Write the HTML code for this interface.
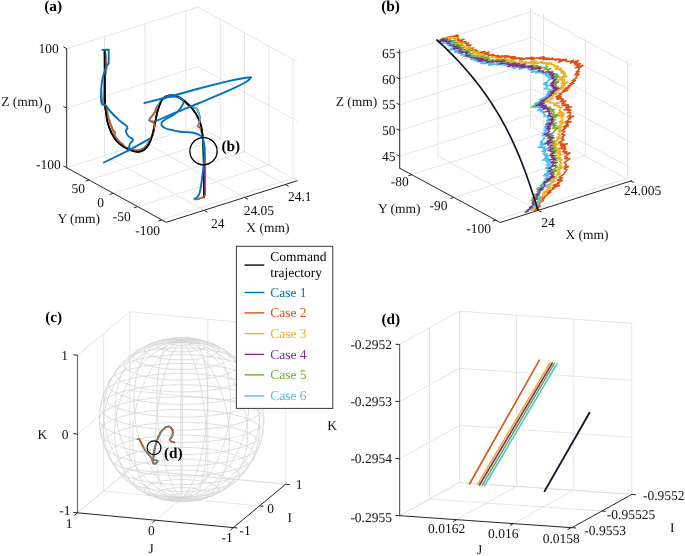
<!DOCTYPE html>
<html><head><meta charset="utf-8"><title>figure</title>
<style>
html,body{margin:0;padding:0;background:#fff;}
svg{display:block;font-family:"Liberation Serif",serif;text-rendering:geometricPrecision;will-change:transform;}
</style></head><body>
<svg width="685" height="556" viewBox="0 0 685 556">
<rect width="685" height="556" fill="#fff"/>
<line x1="104.49" y1="155.72" x2="104.49" y2="36.72" stroke="#dedede" stroke-width="0.8" />
<line x1="104.49" y1="155.72" x2="203.99" y2="210.32" stroke="#dedede" stroke-width="0.8" />
<line x1="145.16" y1="142.82" x2="145.16" y2="23.82" stroke="#dedede" stroke-width="0.8" />
<line x1="145.16" y1="142.82" x2="244.66" y2="197.42" stroke="#dedede" stroke-width="0.8" />
<line x1="185.83" y1="129.93" x2="185.83" y2="10.93" stroke="#dedede" stroke-width="0.8" />
<line x1="185.83" y1="129.93" x2="285.33" y2="184.53" stroke="#dedede" stroke-width="0.8" />
<line x1="220.32" y1="138.40" x2="220.32" y2="19.40" stroke="#dedede" stroke-width="0.8" />
<line x1="89.12" y1="180.00" x2="220.32" y2="138.40" stroke="#dedede" stroke-width="0.8" />
<line x1="244.57" y1="151.71" x2="244.57" y2="32.71" stroke="#dedede" stroke-width="0.8" />
<line x1="113.37" y1="193.31" x2="244.57" y2="151.71" stroke="#dedede" stroke-width="0.8" />
<line x1="268.81" y1="165.01" x2="268.81" y2="46.01" stroke="#dedede" stroke-width="0.8" />
<line x1="137.61" y1="206.61" x2="268.81" y2="165.01" stroke="#dedede" stroke-width="0.8" />
<line x1="293.06" y1="178.32" x2="293.06" y2="59.32" stroke="#dedede" stroke-width="0.8" />
<line x1="161.86" y1="219.92" x2="293.06" y2="178.32" stroke="#dedede" stroke-width="0.8" />
<line x1="66.70" y1="167.70" x2="197.90" y2="126.10" stroke="#dedede" stroke-width="0.8" />
<line x1="197.90" y1="126.10" x2="297.40" y2="180.70" stroke="#dedede" stroke-width="0.8" />
<line x1="66.70" y1="108.20" x2="197.90" y2="66.60" stroke="#dedede" stroke-width="0.8" />
<line x1="197.90" y1="66.60" x2="297.40" y2="121.20" stroke="#dedede" stroke-width="0.8" />
<line x1="66.70" y1="48.70" x2="197.90" y2="7.10" stroke="#dedede" stroke-width="0.8" />
<line x1="197.90" y1="7.10" x2="297.40" y2="61.70" stroke="#dedede" stroke-width="0.8" />
<line x1="66.70" y1="168.20" x2="66.70" y2="48.20" stroke="#262626" stroke-width="1" />
<line x1="66.70" y1="167.70" x2="166.20" y2="222.30" stroke="#262626" stroke-width="1" />
<line x1="166.20" y1="222.30" x2="297.40" y2="180.70" stroke="#262626" stroke-width="1" />
<line x1="66.70" y1="167.70" x2="63.37" y2="165.87" stroke="#262626" stroke-width="1" />
<line x1="66.70" y1="108.20" x2="63.37" y2="106.37" stroke="#262626" stroke-width="1" />
<line x1="66.70" y1="48.70" x2="63.37" y2="46.87" stroke="#262626" stroke-width="1" />
<line x1="89.12" y1="180.00" x2="85.50" y2="181.15" stroke="#262626" stroke-width="1" />
<line x1="113.37" y1="193.31" x2="109.74" y2="194.46" stroke="#262626" stroke-width="1" />
<line x1="137.61" y1="206.61" x2="133.99" y2="207.76" stroke="#262626" stroke-width="1" />
<line x1="161.86" y1="219.92" x2="158.24" y2="221.07" stroke="#262626" stroke-width="1" />
<line x1="203.99" y1="210.32" x2="207.32" y2="212.15" stroke="#262626" stroke-width="1" />
<line x1="244.66" y1="197.42" x2="247.99" y2="199.25" stroke="#262626" stroke-width="1" />
<line x1="285.33" y1="184.53" x2="288.66" y2="186.36" stroke="#262626" stroke-width="1" />
<text x="44.20" y="10.80" text-anchor="start" font-size="15.3" font-weight="bold" fill="#000">(a)</text>
<text x="58.80" y="52.50" text-anchor="end" font-size="13.5" fill="#111">100</text>
<text x="51.00" y="112.80" text-anchor="end" font-size="13.5" fill="#111">0</text>
<text x="60.80" y="169.30" text-anchor="end" font-size="13.5" fill="#111">-100</text>
<text x="1.20" y="106.20" text-anchor="start" font-size="13.5" fill="#111">Z (mm)</text>
<text x="71.60" y="193.20" text-anchor="start" font-size="13.5" fill="#111">50</text>
<text x="97.20" y="207.20" text-anchor="start" font-size="13.5" fill="#111">0</text>
<text x="112.70" y="221.20" text-anchor="start" font-size="13.5" fill="#111">-50</text>
<text x="135.30" y="235.40" text-anchor="start" font-size="13.5" fill="#111">-100</text>
<text x="57.50" y="223.00" text-anchor="start" font-size="13.5" fill="#111">Y (mm)</text>
<text x="211.00" y="228.30" text-anchor="start" font-size="13.5" fill="#111">24</text>
<text x="243.70" y="215.10" text-anchor="start" font-size="13.5" fill="#111">24.05</text>
<text x="287.90" y="200.50" text-anchor="start" font-size="13.5" fill="#111">24.1</text>
<text x="246.30" y="232.30" text-anchor="start" font-size="13.5" fill="#111">X (mm)</text>
<path d="M104.60,50.20 C104.63,55.17 104.73,71.00 104.80,80.00 C104.87,89.00 104.83,99.07 105.00,104.20 C105.17,109.33 105.40,107.90 105.80,110.80 C106.20,113.70 106.50,118.00 107.40,121.60 C108.30,125.20 109.67,129.17 111.20,132.40 C112.73,135.63 114.63,138.67 116.60,141.00 C118.57,143.33 120.67,144.87 123.00,146.40 C125.33,147.93 128.08,149.30 130.60,150.20 C133.12,151.10 135.95,151.80 138.10,151.80 C140.25,151.80 141.70,151.47 143.50,150.20 C145.30,148.93 147.45,146.63 148.90,144.20 C150.35,141.77 151.20,139.02 152.20,135.60 C153.20,132.18 154.00,127.83 154.90,123.70 C155.80,119.57 156.62,114.38 157.60,110.80 C158.58,107.22 159.82,104.37 160.80,102.20 C161.78,100.03 162.17,98.92 163.50,97.80 C164.83,96.68 167.05,95.87 168.80,95.50 C170.55,95.13 172.38,95.32 174.00,95.60 C175.62,95.88 176.68,96.22 178.50,97.20 C180.32,98.18 182.58,99.58 184.90,101.50 C187.22,103.42 190.17,105.92 192.40,108.70 C194.63,111.48 196.82,115.15 198.30,118.20 C199.78,121.25 200.52,123.37 201.30,127.00 C202.08,130.63 202.60,134.50 203.00,140.00 C203.40,145.50 203.52,150.45 203.70,160.00 C203.88,169.55 204.03,191.08 204.10,197.30" fill="none" stroke="#000" stroke-width="1.7" stroke-linejoin="round" stroke-linecap="round"/>
<path d="M104.54,50.54 C104.76,51.84 105.05,53.30 105.47,56.10 C105.89,58.91 106.18,59.94 106.33,62.57 C106.48,65.19 106.48,64.50 106.11,67.34 C105.75,70.18 105.23,68.29 104.76,74.73 C104.29,81.18 104.57,88.26 104.10,94.97 C103.62,101.68 102.54,101.08 102.74,103.48 C102.93,105.88 104.01,104.11 104.94,105.25 C105.87,106.39 106.11,106.13 106.73,108.37 C107.36,110.61 106.94,111.76 107.62,114.84 C108.31,117.92 108.68,118.59 109.67,121.56 C110.66,124.54 111.06,125.50 111.86,127.59 C112.66,129.68 112.28,129.37 113.10,130.53 C113.92,131.69 114.99,131.39 115.37,132.57 C115.74,133.75 114.24,133.91 114.72,135.58 C115.20,137.25 116.09,137.97 117.41,139.72 C118.74,141.48 119.20,142.05 120.39,143.10 C121.59,144.15 121.76,143.70 122.54,144.24 C123.33,144.77 122.82,144.52 123.78,145.40 C124.73,146.28 124.84,146.96 126.64,148.02 C128.43,149.08 129.48,149.36 131.47,149.94 C133.45,150.52 133.13,150.47 135.13,150.50 C137.12,150.54 137.97,150.65 140.01,150.09 C142.04,149.52 142.06,149.32 143.85,148.09 C145.64,146.85 146.07,146.82 147.68,144.80 C149.30,142.78 149.51,141.95 150.78,139.43 C152.06,136.91 152.32,136.74 153.16,133.99 C153.99,131.25 153.95,129.89 154.37,127.66 C154.79,125.44 155.23,125.77 154.96,124.46 C154.69,123.16 154.50,123.08 153.20,122.07 C151.91,121.05 149.71,121.39 149.41,120.11 C149.12,118.83 150.82,118.33 151.93,116.57 C153.04,114.81 152.92,114.45 154.18,112.56 C155.45,110.68 156.09,110.77 157.35,108.49 C158.61,106.21 158.29,105.03 159.59,102.80 C160.89,100.57 161.00,100.33 162.91,98.95 C164.83,97.57 165.59,97.48 167.79,96.87 C170.00,96.26 170.20,96.58 172.37,96.34 C174.55,96.11 174.58,95.08 177.11,95.84 C179.65,96.61 180.12,97.08 183.22,99.63 C186.31,102.18 187.98,104.94 190.38,106.78 C192.78,108.62 191.94,106.96 193.51,107.50 C195.08,108.03 195.62,106.97 197.11,109.08 C198.60,111.18 199.41,113.30 199.90,116.53 C200.39,119.76 199.64,120.69 199.20,122.91 C198.76,125.13 197.77,124.78 198.01,126.06 C198.25,127.33 199.19,125.71 200.24,128.37 C201.29,131.03 201.38,132.44 202.51,137.46 C203.65,142.48 204.53,142.28 205.10,149.88 C205.67,157.48 205.00,160.64 204.96,170.02 C204.92,179.40 205.25,183.84 204.94,190.10 C204.64,196.35 205.64,194.69 203.66,196.82 C201.68,198.95 198.12,198.65 196.44,199.21" fill="none" stroke="#D95319" stroke-width="1.5" stroke-linejoin="round" stroke-linecap="round"/>
<path d="M104.54,50.10 C104.76,51.40 105.21,52.67 105.50,55.65 C105.78,58.64 105.41,60.18 105.77,62.90 C106.12,65.62 107.13,64.54 107.02,67.30 C106.90,70.06 106.05,68.31 105.27,74.72 C104.48,81.13 104.38,88.15 103.64,94.78 C102.89,101.40 101.87,100.48 102.07,103.11 C102.28,105.73 103.38,104.81 104.51,106.03 C105.65,107.24 106.14,106.38 106.93,108.31 C107.72,110.24 107.34,111.07 107.90,114.29 C108.46,117.52 108.39,118.96 109.31,122.13 C110.23,125.29 110.81,125.88 111.83,127.85 C112.85,129.83 112.92,129.44 113.68,130.59 C114.44,131.73 114.91,131.77 115.11,132.77 C115.30,133.77 114.02,133.45 114.51,134.88 C114.99,136.31 115.67,136.96 117.17,138.89 C118.67,140.82 119.66,142.07 120.93,143.17 C122.21,144.26 121.98,142.97 122.65,143.60 C123.32,144.23 122.70,144.69 123.81,145.87 C124.91,147.05 125.70,147.71 127.38,148.65 C129.06,149.59 129.21,149.45 131.01,149.91 C132.81,150.38 133.08,150.61 135.10,150.63 C137.12,150.65 137.51,150.73 139.66,150.01 C141.81,149.28 142.57,148.82 144.31,147.54 C146.06,146.26 145.73,146.51 147.15,144.53 C148.56,142.54 149.07,141.64 150.38,139.03 C151.69,136.43 151.76,135.99 152.77,133.34 C153.78,130.70 154.29,129.94 154.70,127.70 C155.10,125.45 154.92,125.08 154.51,123.70 C154.10,122.32 154.21,122.49 152.93,121.78 C151.66,121.06 149.41,121.86 149.06,120.65 C148.70,119.43 150.08,118.44 151.42,116.56 C152.76,114.68 153.60,114.66 154.80,112.60 C156.00,110.54 155.29,110.06 156.56,107.73 C157.84,105.40 158.82,104.62 160.27,102.62 C161.71,100.61 161.01,100.54 162.74,99.13 C164.47,97.72 165.62,97.06 167.68,96.56 C169.73,96.06 169.28,96.95 171.54,97.00 C173.81,97.04 174.67,95.99 177.40,96.75 C180.12,97.52 180.41,98.08 183.23,100.26 C186.06,102.44 187.01,104.45 189.52,106.09 C192.02,107.73 192.17,106.38 193.97,107.28 C195.76,108.17 195.82,107.60 197.21,109.94 C198.60,112.29 199.43,114.34 199.92,117.32 C200.41,120.29 199.78,120.66 199.29,122.69 C198.81,124.73 197.54,124.69 197.84,126.04 C198.14,127.38 199.49,126.02 200.58,128.46 C201.68,130.91 201.68,131.56 202.53,136.51 C203.39,141.46 203.60,141.89 204.24,149.67 C204.89,157.45 205.20,160.55 205.28,169.86 C205.36,179.18 204.87,183.35 204.59,189.60 C204.31,195.84 206.15,194.49 204.08,196.62 C202.01,198.76 197.66,198.26 195.71,198.76" fill="none" stroke="#EDB120" stroke-width="1.5" stroke-linejoin="round" stroke-linecap="round"/>
<path d="M104.92,50.74 C105.15,52.07 105.54,53.48 105.90,56.44 C106.25,59.40 106.39,60.97 106.44,63.42 C106.49,65.88 106.36,64.23 106.13,66.97 C105.90,69.70 105.94,68.70 105.44,75.15 C104.95,81.60 104.72,88.06 104.00,94.61 C103.28,101.17 102.17,100.67 102.37,103.25 C102.57,105.83 103.97,104.63 104.84,105.67 C105.72,106.72 105.52,105.54 106.11,107.72 C106.70,109.90 106.53,111.76 107.38,115.02 C108.23,118.27 108.71,118.83 109.77,121.66 C110.82,124.49 111.05,125.05 111.90,127.14 C112.75,129.23 112.81,129.27 113.42,130.63 C114.03,131.99 114.32,131.97 114.50,132.97 C114.69,133.97 113.47,133.35 114.21,134.92 C114.95,136.48 116.26,137.73 117.68,139.67 C119.10,141.62 119.13,142.26 120.29,143.26 C121.45,144.27 121.98,143.28 122.64,143.98 C123.30,144.67 122.04,145.12 123.10,146.24 C124.17,147.36 125.26,147.94 127.19,148.77 C129.12,149.60 129.60,149.43 131.39,149.80 C133.18,150.17 132.94,150.37 134.86,150.37 C136.79,150.36 137.56,150.29 139.65,149.77 C141.73,149.24 142.06,149.31 143.80,148.10 C145.54,146.89 145.55,146.75 147.10,144.58 C148.65,142.41 149.03,141.40 150.44,138.81 C151.84,136.22 152.28,136.01 153.12,133.48 C153.95,130.95 153.62,130.30 154.02,127.98 C154.41,125.67 154.98,125.06 154.80,123.56 C154.63,122.05 154.52,122.18 153.28,121.52 C152.03,120.87 149.95,121.85 149.45,120.74 C148.95,119.64 149.99,118.58 151.12,116.79 C152.24,115.00 153.01,115.23 154.27,113.08 C155.52,110.92 155.25,109.91 156.51,107.55 C157.77,105.18 158.24,104.82 159.68,102.96 C161.12,101.09 160.66,100.94 162.70,99.56 C164.74,98.18 166.30,97.72 168.43,97.04 C170.56,96.37 169.84,96.76 171.84,96.65 C173.85,96.55 174.51,95.78 177.02,96.58 C179.54,97.37 179.51,97.70 182.61,100.05 C185.70,102.40 187.86,104.93 190.30,106.66 C192.73,108.39 191.50,106.82 193.04,107.45 C194.58,108.07 195.29,107.01 196.89,109.34 C198.50,111.67 199.34,114.13 199.91,117.42 C200.48,120.70 199.80,121.37 199.34,123.42 C198.88,125.48 197.67,125.22 197.95,126.21 C198.22,127.20 199.51,125.24 200.52,127.68 C201.53,130.11 201.26,131.32 202.28,136.65 C203.30,141.97 204.33,142.82 204.89,150.50 C205.45,158.17 204.57,160.32 204.66,169.55 C204.75,178.77 205.56,183.76 205.29,190.03 C205.02,196.31 205.65,194.22 203.51,196.44 C201.36,198.65 197.82,198.81 196.09,199.53" fill="none" stroke="#7E2F8E" stroke-width="1.5" stroke-linejoin="round" stroke-linecap="round"/>
<path d="M105.09,50.82 C105.21,51.97 105.44,52.88 105.59,55.76 C105.73,58.64 105.47,60.48 105.70,63.16 C105.93,65.85 106.76,64.43 106.57,67.26 C106.38,70.08 105.62,68.73 104.87,75.27 C104.13,81.81 103.90,88.74 103.37,95.30 C102.85,101.87 102.29,100.97 102.63,103.41 C102.97,105.86 103.98,104.70 104.84,105.78 C105.69,106.86 105.58,106.05 106.29,108.05 C107.01,110.06 107.09,111.07 107.91,114.37 C108.72,117.66 108.86,119.16 109.80,122.19 C110.75,125.21 111.22,125.21 111.94,127.34 C112.67,129.46 112.11,130.08 112.89,131.30 C113.68,132.52 115.02,131.71 115.30,132.55 C115.58,133.38 113.62,133.37 114.09,134.90 C114.57,136.42 115.73,137.23 117.33,139.09 C118.94,140.96 119.79,141.75 120.95,142.89 C122.11,144.02 121.76,143.18 122.30,143.96 C122.84,144.74 122.07,145.22 123.26,146.23 C124.45,147.25 125.57,147.39 127.41,148.31 C129.25,149.24 129.30,149.53 131.14,150.20 C132.99,150.87 133.35,151.21 135.31,151.18 C137.26,151.14 137.48,150.85 139.53,150.06 C141.58,149.27 142.20,149.22 144.10,147.80 C146.01,146.39 146.08,146.04 147.69,143.99 C149.29,141.94 149.88,141.43 150.98,139.03 C152.08,136.62 151.71,136.31 152.42,133.66 C153.12,131.02 153.51,130.04 154.01,127.70 C154.52,125.36 154.93,124.88 154.58,123.64 C154.23,122.39 153.72,123.23 152.51,122.37 C151.30,121.50 149.55,121.39 149.40,119.91 C149.25,118.43 150.75,117.54 151.88,116.02 C153.01,114.50 153.01,115.32 154.23,113.40 C155.46,111.49 155.80,110.38 157.12,107.81 C158.44,105.24 158.59,104.26 159.88,102.39 C161.16,100.52 160.84,101.17 162.63,99.80 C164.42,98.43 165.31,97.25 167.55,96.52 C169.80,95.80 169.93,96.81 172.25,96.70 C174.56,96.59 174.86,95.23 177.48,96.05 C180.10,96.86 180.52,97.71 183.48,100.19 C186.44,102.68 187.84,105.02 190.17,106.69 C192.50,108.36 191.71,106.67 193.45,107.33 C195.18,107.99 196.12,107.21 197.60,109.52 C199.07,111.82 199.35,114.16 199.77,117.21 C200.19,120.26 199.79,120.50 199.41,122.59 C199.03,124.68 197.85,124.84 198.15,126.17 C198.44,127.50 199.70,125.87 200.69,128.28 C201.67,130.70 201.52,131.43 202.37,136.52 C203.22,141.61 203.74,142.33 204.32,150.09 C204.90,157.84 204.76,160.34 204.86,169.76 C204.96,179.17 205.10,184.16 204.75,190.43 C204.40,196.69 205.31,194.54 203.35,196.61 C201.40,198.68 198.01,198.68 196.38,199.31" fill="none" stroke="#77AC30" stroke-width="1.5" stroke-linejoin="round" stroke-linecap="round"/>
<path d="M104.62,50.15 C104.89,51.42 105.37,52.61 105.75,55.57 C106.13,58.54 106.14,60.20 106.24,62.87 C106.33,65.53 106.55,64.19 106.16,67.01 C105.76,69.82 105.23,68.50 104.54,74.93 C103.84,81.37 103.69,87.85 103.17,94.59 C102.65,101.33 102.03,101.32 102.32,103.83 C102.62,106.33 103.40,104.25 104.42,105.32 C105.45,106.40 105.97,106.31 106.73,108.45 C107.49,110.59 106.92,111.44 107.68,114.50 C108.44,117.55 108.98,118.56 109.98,121.55 C110.98,124.53 111.27,125.17 111.96,127.29 C112.65,129.41 112.28,129.30 112.94,130.62 C113.61,131.93 114.52,131.83 114.81,132.92 C115.10,134.00 113.59,133.82 114.18,135.28 C114.77,136.74 115.85,137.52 117.34,139.17 C118.82,140.82 119.42,141.35 120.55,142.36 C121.67,143.37 121.45,142.72 122.16,143.51 C122.87,144.29 122.49,144.59 123.58,145.73 C124.67,146.87 125.09,147.44 126.81,148.39 C128.53,149.34 128.97,149.21 130.95,149.80 C132.93,150.39 133.24,150.79 135.29,150.90 C137.35,151.01 137.71,150.86 139.74,150.27 C141.78,149.69 142.14,149.80 144.03,148.38 C145.91,146.95 146.18,146.46 147.83,144.19 C149.48,141.91 149.94,141.05 151.08,138.62 C152.22,136.18 152.07,136.24 152.72,133.76 C153.36,131.28 153.52,130.23 153.85,127.99 C154.18,125.75 154.32,125.55 154.14,124.17 C153.96,122.79 154.13,123.00 153.06,122.07 C152.00,121.15 149.87,121.49 149.58,120.21 C149.28,118.94 150.65,118.29 151.80,116.59 C152.94,114.90 153.19,114.86 154.48,112.96 C155.77,111.05 156.06,110.85 157.34,108.44 C158.62,106.04 158.76,104.75 159.97,102.66 C161.19,100.58 160.65,100.80 162.56,99.50 C164.47,98.20 165.87,97.77 168.15,97.09 C170.42,96.41 170.28,96.73 172.32,96.58 C174.36,96.44 174.51,95.73 176.89,96.47 C179.27,97.21 179.54,97.56 182.52,99.76 C185.51,101.97 187.21,104.17 189.67,105.92 C192.13,107.67 191.36,106.49 193.06,107.27 C194.75,108.05 195.38,106.89 196.93,109.25 C198.48,111.61 199.19,114.17 199.69,117.37 C200.19,120.57 199.49,120.75 199.08,122.95 C198.67,125.15 197.50,125.52 197.95,126.78 C198.40,128.05 199.96,126.00 201.02,128.36 C202.08,130.73 201.65,131.78 202.48,136.92 C203.30,142.05 203.86,142.75 204.56,150.38 C205.25,158.02 205.48,160.47 205.46,169.65 C205.44,178.83 204.97,183.42 204.48,189.73 C203.98,196.04 205.29,194.53 203.33,196.68 C201.38,198.84 197.78,198.43 196.09,198.96" fill="none" stroke="#4DBEEE" stroke-width="1.5" stroke-linejoin="round" stroke-linecap="round"/>
<path d="M104.64,50.53 C104.85,51.82 105.14,53.21 105.52,56.06 C105.90,58.91 106.09,60.14 106.28,62.74 C106.46,65.34 106.64,64.38 106.31,67.20 C105.98,70.03 105.42,68.36 104.86,74.84 C104.29,81.32 104.42,88.30 103.90,94.98 C103.37,101.67 102.37,101.06 102.60,103.49 C102.83,105.91 103.93,104.29 104.88,105.39 C105.84,106.50 106.04,106.04 106.68,108.22 C107.32,110.40 106.93,111.59 107.61,114.74 C108.30,117.90 108.64,118.75 109.60,121.74 C110.57,124.73 110.92,125.46 111.75,127.55 C112.59,129.65 112.37,129.55 113.18,130.72 C113.99,131.89 114.88,131.48 115.22,132.58 C115.56,133.68 114.14,133.80 114.63,135.43 C115.12,137.05 115.97,137.79 117.33,139.55 C118.68,141.32 119.21,141.93 120.44,142.98 C121.66,144.03 121.82,143.46 122.57,144.06 C123.31,144.66 122.64,144.61 123.63,145.56 C124.61,146.51 125.00,147.10 126.78,148.13 C128.57,149.16 129.34,149.39 131.28,149.96 C133.21,150.53 133.04,150.54 135.08,150.58 C137.11,150.62 137.94,150.72 140.00,150.13 C142.07,149.54 142.13,149.33 143.91,148.05 C145.69,146.77 146.06,146.69 147.65,144.64 C149.24,142.59 149.46,141.79 150.71,139.26 C151.96,136.73 152.18,136.47 153.01,133.79 C153.85,131.12 153.88,130.02 154.30,127.80 C154.72,125.58 155.11,125.62 154.82,124.28 C154.52,122.94 153.46,122.56 153.04,122.04" fill="none" stroke="#D95319" stroke-width="1.3" stroke-linejoin="round" stroke-linecap="round"/>
<path d="M104.60,50.20 C104.63,55.17 104.73,71.00 104.80,80.00 C104.87,89.00 104.83,99.07 105.00,104.20 C105.17,109.33 105.40,107.90 105.80,110.80 C106.20,113.70 106.50,118.00 107.40,121.60 C108.30,125.20 109.67,129.17 111.20,132.40 C112.73,135.63 114.63,138.67 116.60,141.00 C118.57,143.33 120.67,144.87 123.00,146.40 C125.33,147.93 128.08,149.30 130.60,150.20 C133.12,151.10 135.95,151.80 138.10,151.80 C140.25,151.80 141.70,151.47 143.50,150.20 C145.30,148.93 147.45,146.63 148.90,144.20 C150.35,141.77 151.20,139.02 152.20,135.60 C153.20,132.18 154.00,127.83 154.90,123.70 C155.80,119.57 156.62,114.38 157.60,110.80 C158.58,107.22 159.82,104.37 160.80,102.20 C161.78,100.03 162.17,98.92 163.50,97.80 C164.83,96.68 167.05,95.87 168.80,95.50 C170.55,95.13 172.38,95.32 174.00,95.60 C175.62,95.88 176.68,96.22 178.50,97.20 C180.32,98.18 182.58,99.58 184.90,101.50 C187.22,103.42 190.17,105.92 192.40,108.70 C194.63,111.48 196.82,115.15 198.30,118.20 C199.78,121.25 200.52,123.37 201.30,127.00 C202.08,130.63 202.60,134.50 203.00,140.00 C203.40,145.50 203.52,150.45 203.70,160.00 C203.88,169.55 204.03,191.08 204.10,197.30" fill="none" stroke="#000" stroke-width="1.65" stroke-linejoin="round" stroke-linecap="round"/>
<path d="M154.20,128.00 C154.29,127.07 154.93,125.40 154.60,124.00 C154.27,122.60 154.06,122.84 152.80,122.00 C151.54,121.16 149.48,121.68 149.20,120.40 C148.92,119.12 150.39,118.23 151.60,116.50 C152.81,114.77 153.14,114.98 154.40,113.00 C155.66,111.02 156.39,109.17 157.00,108.00" fill="none" stroke="#D95319" stroke-width="1.3" stroke-linejoin="round" stroke-linecap="round"/>
<path d="M190.00,106.30 C190.82,106.46 191.80,106.25 193.50,107.00 C195.20,107.75 195.83,107.17 197.30,109.50 C198.77,111.83 199.29,113.85 199.80,117.00 C200.31,120.15 199.94,120.81 199.50,123.00 C199.06,125.19 198.27,125.61 197.90,126.40" fill="none" stroke="#4DBEEE" stroke-width="1.3" stroke-linejoin="round" stroke-linecap="round"/>
<path d="M199.50,123.00 C199.13,123.79 197.62,125.23 197.90,126.40 C198.18,127.57 200.05,127.63 200.70,128.00" fill="none" stroke="#D95319" stroke-width="1.2" stroke-linejoin="round" stroke-linecap="round"/>
<polyline points="102.40,49.90 108.70,49.60 108.70,63.40 106.00,67.00" fill="none" stroke="#0072BD" stroke-width="1.9" stroke-linejoin="round" stroke-linecap="round" />
<path d="M106.00,67.00 C105.42,68.87 104.50,71.08 103.50,75.00 C102.50,78.92 102.28,79.02 101.70,83.80 C101.12,88.58 101.00,90.90 101.00,95.50 C101.00,100.10 100.70,101.28 101.70,103.50 C102.70,105.72 103.27,103.13 105.30,105.00 C107.33,106.87 107.16,107.91 110.40,111.50 C113.64,115.09 115.28,116.78 119.20,120.40 C123.12,124.02 125.66,124.43 127.20,127.00 C128.74,129.57 125.45,129.18 125.80,131.40 C126.15,133.62 127.02,134.56 128.70,136.50 C130.38,138.44 132.70,138.00 133.00,139.70 C133.30,141.40 131.00,141.49 130.00,143.80 C129.00,146.11 129.00,148.25 128.70,149.60" fill="none" stroke="#0072BD" stroke-width="1.9" stroke-linejoin="round" stroke-linecap="round"/>
<polyline points="103.90,162.50 128.70,150.40 149.90,138.70" fill="none" stroke="#0072BD" stroke-width="1.9" stroke-linejoin="round" stroke-linecap="round" />
<path d="M144.30,103.00 C148.58,101.92 160.85,98.92 170.00,96.50 C179.15,94.08 189.47,91.05 199.20,88.50 C208.93,85.95 221.10,82.92 228.40,81.20 C235.70,79.48 239.23,78.83 243.00,78.20 C246.77,77.57 249.67,77.53 251.00,77.40" fill="none" stroke="#0072BD" stroke-width="1.9" stroke-linejoin="round" stroke-linecap="round"/>
<path d="M251.00,77.40 C250.17,78.17 249.77,79.78 246.00,82.00 C242.23,84.22 236.20,87.20 228.40,90.70 C220.60,94.20 207.72,99.48 199.20,103.00 C190.68,106.52 184.55,108.77 177.30,111.80 C170.05,114.83 159.30,119.63 155.70,121.20" fill="none" stroke="#0072BD" stroke-width="1.9" stroke-linejoin="round" stroke-linecap="round"/>
<path d="M163.00,98.40 C164.33,97.81 165.33,96.76 168.00,96.20 C170.67,95.64 169.67,95.71 173.00,96.30 C176.33,96.89 177.73,97.07 180.50,98.40 C183.27,99.73 183.00,99.33 183.40,101.30 C183.80,103.27 183.97,102.68 182.00,105.80 C180.03,108.92 180.27,109.48 176.00,113.00 C171.73,116.52 169.87,116.23 166.00,119.00 C162.13,121.77 161.90,121.08 161.50,123.40 C161.10,125.72 161.75,125.94 164.50,127.70 C167.25,129.46 167.53,128.91 171.80,130.00 C176.07,131.09 175.11,131.13 180.50,131.80 C185.89,132.47 187.01,131.65 192.00,132.50 C196.99,133.35 196.32,133.27 199.20,135.00 C202.08,136.73 201.52,135.00 202.80,139.00 C204.08,143.00 203.63,144.40 204.00,150.00 C204.37,155.60 204.57,153.60 204.20,160.00 C203.83,166.40 203.67,165.89 202.60,174.00 C201.53,182.11 201.45,184.48 200.20,190.40 C198.95,196.32 199.45,193.91 197.90,196.20 C196.35,198.49 195.33,198.25 194.40,199.00" fill="none" stroke="#0072BD" stroke-width="1.9" stroke-linejoin="round" stroke-linecap="round"/>
<polyline points="205.30,158.00 205.50,180.00 205.20,194.00 203.50,197.50 198.00,199.30 194.30,199.60" fill="none" stroke="#D95319" stroke-width="1.2" stroke-linejoin="round" stroke-linecap="round" />
<polyline points="204.60,165.00 204.70,190.00" fill="none" stroke="#7E2F8E" stroke-width="1.0" stroke-linejoin="round" stroke-linecap="round" />
<circle cx="203.5" cy="151.2" r="13.6" fill="none" stroke="#000" stroke-width="1.3"/>
<text x="221.50" y="150.50" text-anchor="start" font-size="15.3" font-weight="bold" fill="#000">(b)</text>
<line x1="437.92" y1="156.05" x2="437.92" y2="37.35" stroke="#dedede" stroke-width="0.8" />
<line x1="437.92" y1="156.05" x2="538.42" y2="210.35" stroke="#dedede" stroke-width="0.8" />
<line x1="530.45" y1="126.64" x2="530.45" y2="7.94" stroke="#dedede" stroke-width="0.8" />
<line x1="530.45" y1="126.64" x2="630.95" y2="180.94" stroke="#dedede" stroke-width="0.8" />
<line x1="543.56" y1="132.82" x2="543.56" y2="14.12" stroke="#dedede" stroke-width="0.8" />
<line x1="411.76" y1="174.72" x2="543.56" y2="132.82" stroke="#dedede" stroke-width="0.8" />
<line x1="585.57" y1="155.51" x2="585.57" y2="36.81" stroke="#dedede" stroke-width="0.8" />
<line x1="453.77" y1="197.41" x2="585.57" y2="155.51" stroke="#dedede" stroke-width="0.8" />
<line x1="627.58" y1="178.21" x2="627.58" y2="59.51" stroke="#dedede" stroke-width="0.8" />
<line x1="495.78" y1="220.11" x2="627.58" y2="178.21" stroke="#dedede" stroke-width="0.8" />
<line x1="399.70" y1="156.30" x2="531.50" y2="114.40" stroke="#dedede" stroke-width="0.8" />
<line x1="531.50" y1="114.40" x2="632.00" y2="168.70" stroke="#dedede" stroke-width="0.8" />
<line x1="399.70" y1="130.57" x2="531.50" y2="88.67" stroke="#dedede" stroke-width="0.8" />
<line x1="531.50" y1="88.67" x2="632.00" y2="142.97" stroke="#dedede" stroke-width="0.8" />
<line x1="399.70" y1="104.85" x2="531.50" y2="62.95" stroke="#dedede" stroke-width="0.8" />
<line x1="531.50" y1="62.95" x2="632.00" y2="117.25" stroke="#dedede" stroke-width="0.8" />
<line x1="399.70" y1="79.12" x2="531.50" y2="37.22" stroke="#dedede" stroke-width="0.8" />
<line x1="531.50" y1="37.22" x2="632.00" y2="91.52" stroke="#dedede" stroke-width="0.8" />
<line x1="399.70" y1="53.40" x2="531.50" y2="11.50" stroke="#dedede" stroke-width="0.8" />
<line x1="531.50" y1="11.50" x2="632.00" y2="65.80" stroke="#dedede" stroke-width="0.8" />
<line x1="399.70" y1="168.70" x2="399.70" y2="49.50" stroke="#262626" stroke-width="1" />
<line x1="399.70" y1="168.20" x2="500.20" y2="222.50" stroke="#262626" stroke-width="1" />
<line x1="500.20" y1="222.50" x2="632.00" y2="180.60" stroke="#262626" stroke-width="1" />
<line x1="399.70" y1="156.30" x2="396.53" y2="154.59" stroke="#262626" stroke-width="1" />
<line x1="399.70" y1="130.57" x2="396.53" y2="128.86" stroke="#262626" stroke-width="1" />
<line x1="399.70" y1="104.85" x2="396.53" y2="103.14" stroke="#262626" stroke-width="1" />
<line x1="399.70" y1="79.12" x2="396.53" y2="77.41" stroke="#262626" stroke-width="1" />
<line x1="399.70" y1="53.40" x2="396.53" y2="51.69" stroke="#262626" stroke-width="1" />
<line x1="411.76" y1="174.72" x2="408.33" y2="175.81" stroke="#262626" stroke-width="1" />
<line x1="453.77" y1="197.41" x2="450.34" y2="198.50" stroke="#262626" stroke-width="1" />
<line x1="495.78" y1="220.11" x2="492.35" y2="221.20" stroke="#262626" stroke-width="1" />
<line x1="538.42" y1="210.35" x2="541.59" y2="212.06" stroke="#262626" stroke-width="1" />
<line x1="630.95" y1="180.94" x2="634.11" y2="182.65" stroke="#262626" stroke-width="1" />
<text x="381.20" y="11.40" text-anchor="start" font-size="15.3" font-weight="bold" fill="#000">(b)</text>
<text x="395.60" y="57.80" text-anchor="end" font-size="13.5" fill="#111">65</text>
<text x="395.60" y="83.50" text-anchor="end" font-size="13.5" fill="#111">60</text>
<text x="395.60" y="109.20" text-anchor="end" font-size="13.5" fill="#111">55</text>
<text x="395.60" y="135.00" text-anchor="end" font-size="13.5" fill="#111">50</text>
<text x="395.60" y="160.80" text-anchor="end" font-size="13.5" fill="#111">45</text>
<text x="335.70" y="106.30" text-anchor="start" font-size="13.5" fill="#111">Z (mm)</text>
<text x="390.80" y="186.30" text-anchor="start" font-size="13.5" fill="#111">-80</text>
<text x="429.40" y="210.10" text-anchor="start" font-size="13.5" fill="#111">-90</text>
<text x="466.30" y="232.50" text-anchor="start" font-size="13.5" fill="#111">-100</text>
<text x="377.90" y="212.80" text-anchor="start" font-size="13.5" fill="#111">Y (mm)</text>
<text x="541.20" y="226.50" text-anchor="start" font-size="13.5" fill="#111">24</text>
<text x="624.00" y="194.80" text-anchor="start" font-size="13.5" fill="#111">24.005</text>
<text x="565.50" y="239.20" text-anchor="start" font-size="13.5" fill="#111">X (mm)</text>
<polyline points="441.50,38.76 452.24,36.15 446.75,37.88 450.02,36.43 450.32,37.26 457.61,35.07 452.47,36.75 458.43,36.26 457.23,38.64 458.87,38.56 457.44,40.66 464.21,39.16 456.86,43.32 465.92,41.44 463.91,43.32 468.81,43.02 466.31,45.15 470.91,45.07 468.93,46.81 470.19,47.53 468.62,48.32 473.57,47.73 469.94,50.90 475.75,49.71 474.66,50.95 477.57,50.86 477.13,52.65 484.97,51.45 479.62,54.49 488.87,52.12 485.09,54.24 488.90,54.03 488.05,55.39 493.97,54.45 491.81,55.95 498.86,55.52 495.45,57.68 502.73,55.84 499.63,57.69 505.12,55.58 503.56,56.27 507.87,55.72 504.53,57.84 510.19,56.29 509.33,57.31 514.38,56.53 510.90,58.49 515.83,57.02 512.87,59.21 519.12,57.79 516.22,58.72 522.21,58.11 519.98,60.15 526.29,57.94 523.06,59.65 527.98,57.95 526.71,58.42 531.80,57.23 527.54,58.99 533.83,57.46 531.94,58.58 535.22,58.61 531.06,59.80 537.05,57.77 537.77,58.06 543.93,56.65 539.63,58.71 544.42,57.36 539.75,59.04 547.12,57.90 543.26,59.42 549.14,58.23 546.31,59.41 552.94,58.22 549.56,59.47 553.44,58.79 552.03,59.46 558.51,58.97 555.02,60.33 560.17,59.04 559.26,60.47 564.05,59.29 558.35,62.26 566.57,59.30 565.27,60.92 568.46,61.16 567.18,61.87 573.60,60.41 570.38,63.13 578.65,60.49 574.40,63.30 577.85,62.71 574.57,65.11 580.26,63.63 576.85,66.09 579.55,65.46 575.14,67.84 582.85,65.51 578.59,68.16 579.38,69.40 576.30,72.03 579.46,71.73 574.85,74.75 579.16,74.28 575.73,77.29 576.54,78.05 571.95,80.58 575.59,80.55 570.08,83.72 573.91,83.39 568.13,86.03 570.42,86.27 564.97,88.53 568.93,88.16 563.07,90.37 567.84,90.32 561.91,92.33 563.24,92.17 559.06,93.87 561.48,94.44 556.05,96.67 560.35,95.13 556.18,97.51 561.33,96.77 556.81,99.18 562.48,98.72 561.34,99.56 563.49,99.17 560.39,101.75 565.84,100.85 561.76,103.80 565.83,104.05 562.14,105.77 568.33,104.52 565.70,105.94 569.19,105.89 566.02,107.86 571.61,106.64 564.08,110.04 568.86,109.00 567.01,110.18 571.02,110.03 567.38,112.84 570.87,112.82 570.17,114.20 570.03,115.13 567.33,116.83 573.65,116.08 568.47,118.72 570.65,118.73 565.55,121.95 571.19,121.61 565.87,123.45 568.08,124.34 563.84,126.37 568.48,125.75 563.61,128.07 565.78,128.20 561.45,130.87 564.89,131.29 561.58,134.32 564.85,135.07 560.30,138.12 563.18,137.44 561.89,139.12 563.97,139.73 558.44,142.93 562.49,143.32 560.48,144.74 567.33,143.74 560.93,146.22 564.70,146.42 558.91,148.85 565.62,147.15 561.59,149.13 565.94,148.61 562.76,151.67 566.99,151.60 564.28,153.68 570.07,152.83 564.94,156.95 567.32,157.48 564.70,158.72 569.97,158.74 564.21,162.63 566.36,164.39 564.27,166.76 568.64,166.55 564.08,168.86 567.05,169.65 564.59,172.76 563.91,174.19 559.05,177.33 562.67,177.91 557.10,180.29 562.43,180.36 557.54,182.71 559.24,182.92 552.87,185.47 558.84,183.60 553.77,185.96 559.66,185.51 552.13,188.14 554.23,188.56 547.18,191.68 550.66,191.24 547.49,193.28 550.93,192.28 546.83,194.53 547.66,194.73 542.38,198.40 544.96,197.97 542.27,199.50 543.35,200.47 539.87,202.29 539.57,203.45 538.11,205.59 539.67,204.93 535.01,206.82 539.96,206.27 535.70,208.88 538.26,208.35 534.14,210.43 538.94,209.23" fill="none" stroke="#D95319" stroke-width="1.5" stroke-linejoin="round" stroke-linecap="round" />
<polyline points="443.29,38.90 445.86,37.85 442.12,39.51 451.76,36.92 446.21,39.33 454.43,37.45 451.74,38.79 457.78,37.90 453.34,41.49 456.43,41.57 455.08,42.51 460.48,42.53 456.80,43.89 464.16,42.89 459.93,45.39 464.33,45.67 463.70,47.59 469.80,46.99 464.79,49.48 472.55,47.71 466.82,51.01 470.96,49.83 465.71,52.67 474.36,50.89 472.50,53.33 479.01,51.64 474.63,55.32 481.50,53.93 477.31,55.53 483.25,54.09 479.92,55.48 485.35,55.51 480.64,57.16 485.14,56.48 485.76,57.31 488.58,57.07 487.86,58.44 492.00,56.84 493.68,57.26 496.41,57.38 496.95,58.87 501.24,58.38 499.35,59.95 506.04,58.19 502.99,59.77 507.43,59.38 505.58,60.98 512.12,59.60 508.17,61.77 513.29,60.38 510.24,61.97 514.80,61.19 511.85,62.60 515.75,62.03 515.45,62.78 522.29,61.38 517.76,63.28 521.22,62.06 520.11,63.47 526.40,61.47 524.98,63.04 529.22,62.19 522.75,64.18 534.72,60.52 528.52,63.52 533.38,61.98 531.77,63.25 537.28,61.30 532.39,64.45 542.61,61.57 535.67,63.85 543.11,62.34 542.13,63.29 545.35,63.06 544.58,63.22 549.02,62.85 545.42,65.13 551.87,62.77 550.30,64.30 554.84,64.67 553.84,66.73 558.44,65.87 555.02,69.25 560.68,67.76 558.11,69.17 561.10,69.04 559.57,70.11 562.65,70.26 561.02,71.59 563.95,71.34 561.12,73.12 565.32,73.12 563.77,74.50 565.85,75.29 559.77,78.03 566.58,76.62 558.55,79.97 564.69,79.72 562.46,81.62 564.48,81.88 561.08,83.39 568.23,81.94 561.22,86.02 565.07,85.67 558.23,88.72 563.46,87.91 557.07,91.13 558.47,90.61 554.48,92.58 557.76,93.33 552.71,95.25 553.03,96.26 551.01,97.66 552.63,97.87 546.83,100.42 553.29,98.64 547.26,100.58 548.03,100.22 544.58,102.60 548.74,101.39 546.63,102.04 550.88,101.52 549.83,102.93 554.40,103.15 553.25,103.76 559.16,102.86 553.91,105.45 559.05,105.83 557.80,107.02 561.48,107.34 559.38,109.65 560.51,110.35 559.22,110.73 561.67,111.75 558.01,113.02 563.42,112.88 556.84,115.42 564.09,114.06 559.42,116.09 563.91,116.10 561.00,117.93 563.13,119.13 559.38,122.11 562.33,121.11 559.97,122.81 564.71,122.39 557.24,126.91 562.16,126.47 558.89,128.24 561.07,129.02 558.27,130.84 560.71,131.71 557.86,134.22 560.23,135.35 556.85,137.94 561.49,137.26 557.11,139.56 558.45,139.68 553.05,143.32 556.16,143.00 554.19,145.31 559.24,143.78 552.95,146.78 556.59,147.15 556.07,147.65 558.41,148.04 553.55,150.79 559.85,150.33 553.75,153.18 561.05,151.67 558.13,154.16 561.88,154.27 555.94,158.73 561.09,157.75 558.89,159.72 562.11,159.85 559.50,161.69 561.82,163.08 559.33,164.95 561.46,165.76 558.12,168.04 563.94,166.99 555.85,171.02 560.09,171.16 556.73,173.91 560.47,173.56 552.95,178.06 556.32,177.62 550.65,180.84 554.23,179.96 550.87,181.31 554.94,181.24 549.09,184.41 551.10,184.90 546.48,187.16 551.17,187.23 546.46,189.79 548.43,189.44 543.23,192.18 547.58,191.16 542.50,193.98 545.64,194.56 539.63,197.48 541.48,197.63 539.07,199.70 541.63,200.24 536.53,203.66 538.81,203.07 534.10,206.23 536.69,205.66 532.79,208.43 534.64,207.78 531.54,210.05 534.99,208.73" fill="none" stroke="#EDB120" stroke-width="1.5" stroke-linejoin="round" stroke-linecap="round" />
<polyline points="442.16,39.63 447.24,38.49 441.53,40.95 445.64,39.33 446.53,40.39 450.48,39.60 449.47,41.49 455.02,40.20 451.66,42.96 456.52,42.71 450.79,45.75 459.63,44.43 455.57,46.88 462.72,45.09 458.18,47.41 463.98,47.65 458.86,50.55 465.32,49.58 463.75,51.32 471.22,49.12 464.30,52.43 469.86,52.33 466.93,53.85 472.84,53.53 466.31,56.09 474.31,55.40 471.65,57.57 477.88,56.46 474.31,57.97 480.90,56.99 478.48,57.83 482.89,56.96 480.39,58.55 488.74,56.95 483.19,59.50 488.15,58.71 483.69,60.59 489.63,59.26 487.84,60.95 493.46,59.41 490.21,60.82 497.37,59.68 492.28,61.43 498.07,59.80 496.84,60.80 504.98,59.33 501.26,60.93 505.49,61.18 504.56,62.07 506.61,62.16 507.12,62.20 508.98,62.87 509.87,63.32 512.99,62.88 511.26,64.05 516.72,63.77 516.25,64.87 520.03,64.38 515.57,66.61 523.79,64.06 519.51,66.61 523.46,65.71 522.72,66.68 525.97,65.77 526.43,66.46 530.94,65.32 531.13,66.16 532.99,65.81 532.52,66.46 537.60,65.46 534.11,67.45 538.23,66.77 537.22,66.91 541.88,66.86 539.12,68.59 547.40,66.58 544.44,69.52 550.93,68.77 545.51,72.04 553.31,71.11 545.68,74.67 552.87,72.44 550.12,75.03 557.43,73.97 554.33,75.16 557.74,75.12 551.42,78.17 559.08,76.31 555.54,78.99 557.01,78.93 553.14,81.20 557.61,81.18 552.12,83.13 558.99,81.76 553.60,85.60 556.90,85.23 553.47,87.99 558.27,87.07 553.16,89.63 553.85,90.30 550.27,92.05 553.89,92.96 547.11,95.10 551.06,95.37 546.26,97.51 549.22,97.05 542.62,99.45 545.89,99.38 540.63,100.81 542.55,100.39 539.31,102.24 539.88,102.54 534.89,104.08 538.21,103.86 531.23,107.10 539.17,104.03 534.05,107.24 542.10,104.91 540.25,106.44 543.10,106.36 542.11,107.28 546.53,106.40 545.89,108.33 550.70,106.90 548.03,109.37 551.84,108.68 548.52,110.31 554.65,109.46 551.15,111.56 554.58,111.89 552.15,115.02 557.54,114.61 551.31,117.05 557.84,116.04 550.82,119.53 555.40,119.69 550.52,122.70 553.92,121.64 548.80,125.03 556.43,122.89 552.19,125.75 556.32,125.11 552.60,128.38 557.26,127.61 556.11,129.04 558.17,128.14 554.06,131.15 555.31,130.32 553.46,132.30 553.96,132.12 550.49,134.14 552.82,133.77 550.33,135.46 553.48,135.81 546.76,138.88 554.50,137.67 550.07,139.25 552.20,140.06 549.36,141.49 554.54,140.86 551.82,143.31 554.15,143.59 550.34,145.63 555.23,145.95 551.29,148.52 555.00,148.46 551.17,150.83 556.07,150.29 550.60,153.80 554.14,152.74 551.64,155.39 556.76,155.30 552.71,157.74 557.35,158.19 554.65,159.62 557.01,160.31 551.80,163.43 557.62,162.26 555.56,163.86 555.87,165.48 554.79,166.72 557.79,166.36 551.93,170.56 556.69,170.03 552.61,173.69 554.63,174.25 551.13,176.75 553.80,176.69 550.18,179.16 550.40,179.48 546.54,181.00 550.09,180.96 544.72,182.38 547.87,181.67 542.47,184.02 545.18,183.32 540.30,185.55 544.53,185.18 536.59,188.77 542.78,187.19 537.89,189.81 541.24,188.87 537.23,191.63 539.00,192.06 534.57,194.87 536.88,194.96 532.28,198.03 538.05,196.99 531.24,200.26 535.54,200.71 531.91,203.31 534.00,204.20 529.81,207.95 532.33,207.95 525.25,211.84" fill="none" stroke="#77AC30" stroke-width="1.4" stroke-linejoin="round" stroke-linecap="round" />
<polyline points="439.77,40.39 441.26,40.11 439.55,41.71 445.29,40.68 440.98,43.89 452.31,41.83 446.09,44.05 452.72,43.14 447.78,45.66 451.63,46.32 451.87,46.91 454.07,47.00 447.72,50.84 456.87,48.22 454.71,50.56 458.07,50.00 454.40,52.27 464.44,51.01 458.37,53.40 462.78,53.09 461.02,55.45 466.95,53.62 463.80,56.26 470.52,54.59 466.99,57.04 472.38,56.92 470.52,59.38 476.67,58.66 473.63,60.36 478.28,59.75 475.85,61.01 480.75,59.30 477.67,61.79 483.37,61.19 480.58,63.22 488.82,61.20 482.96,63.85 492.12,62.32 488.62,64.58 493.50,63.06 488.98,65.39 496.64,64.01 494.78,64.17 498.78,63.20 497.18,64.47 501.19,63.01 496.90,65.15 504.60,63.30 501.39,64.90 508.44,63.52 503.63,65.14 509.24,64.90 506.46,65.43 510.52,65.64 512.34,64.90 512.41,66.50 512.13,67.46 519.64,65.84 513.23,68.22 521.30,66.38 519.36,67.68 523.67,67.01 518.66,69.41 525.71,67.59 526.07,67.48 529.37,67.62 528.16,69.08 530.82,69.40 530.22,69.99 535.21,69.44 531.31,72.26 539.55,70.94 535.87,73.16 543.49,70.98 540.13,72.75 543.96,73.40 543.26,73.97 550.24,72.62 546.21,75.10 549.76,74.94 545.90,76.20 554.90,74.21 548.23,77.68 552.50,76.94 548.67,79.66 552.23,78.07 547.62,80.82 547.84,81.71 544.67,82.76 547.88,82.31 543.21,84.21 546.91,84.16 545.59,85.68 549.38,85.51 544.09,88.73 549.59,89.16 549.16,90.20 551.68,89.65 547.54,92.19 551.16,91.91 546.24,94.72 551.12,93.72 546.69,95.93 547.31,95.95 544.12,97.51 548.15,96.14 539.87,99.67 543.31,98.83 540.00,101.25 539.08,101.64 534.73,103.67 537.38,104.19 535.20,105.83 537.98,105.38 533.74,107.67 542.61,106.27 538.89,108.51 541.08,107.98 537.59,110.30 543.98,109.22 540.35,111.43 544.24,111.61 541.91,112.35 544.33,113.31 543.56,113.66 544.87,114.42 543.94,116.22 549.94,115.86 547.29,117.78 549.98,118.43 546.61,120.58 549.47,120.78 547.22,122.66 548.79,123.92 544.76,126.88 551.12,125.72 544.70,128.13 550.23,128.23 544.14,130.47 547.89,130.25 542.63,133.89 548.60,132.74 541.92,135.94 548.83,134.32 543.33,138.04 544.48,138.63 540.25,141.94 542.54,141.80 540.13,144.50 547.64,142.51 538.01,147.58 545.01,146.78 542.88,148.97 548.02,148.64 541.78,151.58 545.90,150.80 543.06,153.97 547.48,153.83 544.32,155.74 547.81,155.77 545.25,157.38 548.51,156.88 542.36,160.28 549.19,158.74 545.73,160.75 549.87,160.22 546.76,161.95 551.60,161.59 546.11,164.84 550.88,164.65 545.28,168.01 551.20,166.68 545.74,168.51 550.52,168.09 546.85,171.02 549.88,171.24 544.60,174.36 552.53,172.63 543.37,175.89 548.77,175.81 544.82,179.06 546.45,179.52 543.72,181.72 545.10,182.27 541.81,183.54 546.10,183.61 543.00,185.50 548.47,184.84 537.35,188.68 543.03,187.33 539.62,189.84 542.24,190.17 538.16,192.47 540.46,192.25 537.35,194.86 539.34,194.91 537.17,197.18 540.37,197.55 535.60,199.42 541.14,199.54 536.24,202.38 537.17,202.90 533.99,204.32 540.18,204.07 531.45,207.26 533.26,207.47 530.05,209.31 531.85,209.88" fill="none" stroke="#4DBEEE" stroke-width="1.4" stroke-linejoin="round" stroke-linecap="round" />
<polyline points="439.74,39.95 444.47,38.90 439.18,41.84 447.39,39.55 444.29,41.57 451.44,41.04 446.63,43.05 450.40,43.78 449.83,45.52 454.04,44.70 452.98,47.03 457.94,45.75 452.91,49.18 459.79,47.38 457.37,48.87 461.76,48.88 458.20,51.87 463.04,51.33 460.94,53.06 467.70,51.75 465.81,53.47 467.41,53.73 465.57,56.16 470.24,55.04 468.17,56.29 472.25,57.46 471.21,57.95 476.89,57.75 475.77,58.67 479.18,57.83 477.20,59.49 482.49,58.08 478.27,61.15 483.41,59.32 479.87,61.28 487.32,59.84 485.25,61.30 489.24,61.67 486.91,62.69 492.86,60.96 490.87,61.64 495.05,61.86 492.31,62.28 498.75,60.92 496.50,62.10 504.89,60.78 498.87,64.20 503.37,63.23 503.24,63.33 509.13,63.04 506.86,64.40 508.59,64.28 508.78,64.68 515.54,62.94 507.37,67.01 519.29,63.52 512.85,66.49 521.19,64.93 516.57,66.58 525.41,64.04 519.64,67.47 525.14,65.94 522.22,67.62 527.42,66.56 527.06,66.30 532.84,65.80 527.39,67.94 533.58,67.30 530.27,69.74 539.82,67.11 535.57,69.28 540.86,68.24 538.02,71.11 543.26,70.72 542.69,72.45 549.30,71.75 548.66,72.50 551.86,72.44 549.68,74.49 554.37,73.31 551.08,76.00 553.69,75.68 551.80,77.56 554.46,77.77 551.78,79.04 556.12,79.29 552.75,81.28 553.41,81.34 550.25,83.96 554.95,82.61 550.37,85.87 554.18,85.06 551.87,87.10 556.33,87.16 552.92,88.58 559.04,88.35 550.41,92.01 556.25,90.34 551.08,93.18 553.80,92.97 548.93,95.26 551.72,95.32 548.29,97.02 548.07,97.04 545.28,99.28 547.61,98.22 541.44,100.67 545.81,99.81 539.90,102.31 544.29,101.28 536.28,105.61 544.29,103.12 539.24,105.69 546.43,105.05 541.04,107.16 546.32,106.73 542.71,108.72 547.36,106.94 543.92,109.00 549.17,108.85 547.18,109.89 549.32,110.18 544.93,111.99 549.84,111.53 548.63,113.60 551.74,113.11 547.97,115.82 551.16,115.64 550.51,116.36 553.22,117.63 549.12,119.95 553.26,119.36 551.13,120.64 553.67,121.28 545.79,124.32 552.82,123.34 546.62,126.94 550.71,126.79 546.78,128.88 550.74,128.56 548.06,130.42 549.72,131.54 544.43,134.48 550.05,133.98 546.41,135.99 550.71,136.19 548.21,137.57 553.34,137.91 546.98,141.33 550.66,140.23 544.95,144.01 552.18,141.94 547.27,145.01 551.97,145.41 548.32,147.90 553.31,148.27 547.92,150.63 551.45,151.10 550.21,151.79 555.12,151.87 549.61,155.59 554.42,155.51 551.09,157.25 554.70,158.21 549.83,159.86 555.29,159.38 550.94,162.89 555.36,162.20 551.78,165.73 555.10,165.56 548.68,168.21 552.26,169.34 548.42,171.46 553.67,172.16 549.72,174.02 553.18,175.03 550.02,176.77 553.26,176.33 546.33,179.24 554.34,176.86 547.75,178.79 550.89,178.63 547.54,179.97 548.41,180.58 544.00,181.84 548.18,180.95 543.57,183.22 544.41,183.36 544.16,184.41 545.20,186.17 538.94,189.43 543.80,188.95 539.03,190.92 540.03,192.21 536.39,195.00 538.95,194.53 535.67,198.01 537.16,198.69 532.35,201.93 533.36,202.32 532.67,203.74 534.30,204.38 529.47,207.56 532.20,207.34 527.27,209.89 529.40,209.88 525.20,212.58 528.05,211.35" fill="none" stroke="#7E2F8E" stroke-width="1.15" stroke-linejoin="round" stroke-linecap="round" />
<polyline points="436.89,40.00 441.62,44.35 446.19,48.70 450.60,53.05 454.86,57.39 458.98,61.74 462.95,66.09 466.78,70.44 470.48,74.79 474.04,79.14 477.47,83.49 480.78,87.84 483.96,92.18 487.03,96.53 489.98,100.88 492.83,105.23 495.56,109.58 498.20,113.93 500.73,118.28 503.17,122.63 505.52,126.97 507.78,131.32 509.95,135.67 512.05,140.02 514.06,144.37 516.01,148.72 517.89,153.07 519.70,157.42 521.45,161.76 523.14,166.11 524.77,170.46 526.36,174.81 527.90,179.16 529.39,183.51 530.85,187.86 532.27,192.21 533.66,196.55 535.02,200.90 536.36,205.25 537.68,209.60" fill="none" stroke="#14142a" stroke-width="1.7" stroke-linejoin="round" stroke-linecap="round" />
<line x1="103.65" y1="491.10" x2="103.65" y2="333.50" stroke="#dedede" stroke-width="0.8" />
<line x1="129.80" y1="469.40" x2="129.80" y2="311.80" stroke="#dedede" stroke-width="0.8" />
<line x1="207.75" y1="476.80" x2="207.75" y2="319.20" stroke="#dedede" stroke-width="0.8" />
<line x1="285.70" y1="484.20" x2="285.70" y2="326.60" stroke="#dedede" stroke-width="0.8" />
<line x1="77.50" y1="512.80" x2="129.80" y2="469.40" stroke="#dedede" stroke-width="0.8" />
<line x1="129.80" y1="469.40" x2="285.70" y2="484.20" stroke="#dedede" stroke-width="0.8" />
<line x1="77.50" y1="434.00" x2="129.80" y2="390.60" stroke="#dedede" stroke-width="0.8" />
<line x1="129.80" y1="390.60" x2="285.70" y2="405.40" stroke="#dedede" stroke-width="0.8" />
<line x1="77.50" y1="355.20" x2="129.80" y2="311.80" stroke="#dedede" stroke-width="0.8" />
<line x1="129.80" y1="311.80" x2="285.70" y2="326.60" stroke="#dedede" stroke-width="0.8" />
<line x1="103.65" y1="491.10" x2="259.55" y2="505.90" stroke="#dedede" stroke-width="0.8" />
<line x1="129.80" y1="469.40" x2="285.70" y2="484.20" stroke="#dedede" stroke-width="0.8" />
<line x1="77.50" y1="512.80" x2="129.80" y2="469.40" stroke="#dedede" stroke-width="0.8" />
<line x1="155.45" y1="520.20" x2="207.75" y2="476.80" stroke="#dedede" stroke-width="0.8" />
<polyline points="181.60,498.50 182.97,497.26 184.33,495.80 185.69,494.14 187.04,492.27 188.37,490.20 189.68,487.94 190.97,485.49 192.24,482.86 193.47,480.06 194.67,477.09 195.84,473.97 196.97,470.70 198.06,467.28 199.10,463.74 200.09,460.08 201.03,456.30 201.92,452.43 202.76,448.46 203.53,444.42 204.25,440.31 204.90,436.14 205.49,431.93 206.01,427.68 206.47,423.41 206.86,419.13 207.18,414.86 207.43,410.59 207.61,406.36 207.71,402.15 207.75,398.00 207.71,393.91 207.61,389.88 207.43,385.94 207.18,382.09 206.86,378.34 206.47,374.71 206.01,371.20 205.49,367.83 204.90,364.59 204.25,361.51 203.53,358.58 202.76,355.83 201.92,353.25 201.03,350.85 200.09,348.64 199.10,346.62 198.06,344.80 196.97,343.19 195.84,341.79 194.67,340.61 193.47,339.64 192.24,338.89 190.97,338.36 189.68,338.05 188.37,337.97 187.04,338.11 185.69,338.48 184.33,339.06 182.97,339.87 181.60,340.90" fill="none" stroke="#d4d4d4" stroke-width="0.78" stroke-linejoin="round" stroke-linecap="round" />
<polyline points="181.60,498.50 181.64,497.19 181.68,495.67 181.72,493.94 181.76,492.01 181.80,489.88 181.84,487.56 181.88,485.05 181.92,482.36 181.96,479.50 181.99,476.48 182.03,473.30 182.06,469.98 182.09,466.51 182.12,462.92 182.15,459.21 182.18,455.39 182.21,451.47 182.23,447.47 182.26,443.39 182.28,439.25 182.30,435.05 182.31,430.81 182.33,426.54 182.34,422.25 182.36,417.95 182.37,413.66 182.37,409.38 182.38,405.14 182.38,400.93 182.38,396.78 182.38,392.68 182.38,388.66 182.37,384.73 182.37,380.89 182.36,377.16 182.34,373.55 182.33,370.06 182.31,366.71 182.30,363.50 182.28,360.45 182.26,357.56 182.23,354.84 182.21,352.29 182.18,349.94 182.15,347.77 182.12,345.80 182.09,344.03 182.06,342.47 182.03,341.13 181.99,339.99 181.96,339.08 181.92,338.39 181.88,337.92 181.84,337.67 181.80,337.65 181.76,337.86 181.72,338.28 181.68,338.94 181.64,339.81 181.60,340.90" fill="none" stroke="#d4d4d4" stroke-width="0.78" stroke-linejoin="round" stroke-linecap="round" />
<polyline points="181.60,498.50 180.31,497.25 179.02,495.78 177.74,494.10 176.47,492.22 175.22,490.15 173.98,487.87 172.76,485.42 171.57,482.78 170.40,479.97 169.27,476.99 168.17,473.86 167.10,470.57 166.08,467.15 165.10,463.60 164.16,459.93 163.27,456.15 162.43,452.27 161.65,448.30 160.92,444.25 160.24,440.13 159.63,435.96 159.07,431.74 158.58,427.49 158.14,423.22 157.78,418.94 157.48,414.66 157.24,410.39 157.07,406.15 156.97,401.95 156.94,397.79 156.97,393.70 157.07,389.68 157.24,385.74 157.48,381.89 157.78,378.15 158.14,374.52 158.58,371.01 159.07,367.64 159.63,364.41 160.24,361.33 160.92,358.41 161.65,355.66 162.43,353.09 163.27,350.69 164.16,348.49 165.10,346.48 166.08,344.68 167.10,343.07 168.17,341.68 169.27,340.50 170.40,339.54 171.57,338.80 172.76,338.28 173.98,337.99 175.22,337.92 176.47,338.07 177.74,338.44 179.02,339.04 180.31,339.86 181.60,340.90" fill="none" stroke="#d4d4d4" stroke-width="0.78" stroke-linejoin="round" stroke-linecap="round" />
<polyline points="181.60,498.50 179.10,497.41 176.61,496.11 174.14,494.60 171.68,492.88 169.26,490.96 166.86,488.85 164.51,486.55 162.20,484.06 159.95,481.40 157.75,478.57 155.62,475.58 153.57,472.43 151.59,469.14 149.69,465.72 147.88,462.17 146.16,458.50 144.54,454.73 143.02,450.86 141.60,446.90 140.30,442.87 139.11,438.78 138.03,434.63 137.08,430.44 136.24,426.23 135.53,421.99 134.95,417.75 134.49,413.52 134.17,409.30 133.97,405.11 133.91,400.96 133.97,396.86 134.17,392.82 134.49,388.86 134.95,384.98 135.53,381.20 136.24,377.53 137.08,373.96 138.03,370.53 139.11,367.23 140.30,364.07 141.60,361.06 143.02,358.22 144.54,355.54 146.16,353.04 147.88,350.73 149.69,348.60 151.59,346.67 153.57,344.93 155.62,343.41 157.75,342.09 159.95,340.98 162.20,340.09 164.51,339.42 166.86,338.97 169.26,338.73 171.68,338.73 174.14,338.94 176.61,339.37 179.10,340.03 181.60,340.90" fill="none" stroke="#d4d4d4" stroke-width="0.78" stroke-linejoin="round" stroke-linecap="round" />
<polyline points="181.60,498.50 178.14,497.67 174.70,496.63 171.27,495.38 167.87,493.92 164.50,492.26 161.19,490.40 157.93,488.34 154.73,486.10 151.61,483.67 148.57,481.07 145.62,478.30 142.77,475.37 140.03,472.29 137.40,469.06 134.89,465.70 132.51,462.21 130.27,458.61 128.16,454.90 126.20,451.09 124.40,447.20 122.75,443.23 121.26,439.20 119.93,435.11 118.78,430.98 117.80,426.82 116.99,422.64 116.36,418.45 115.91,414.27 115.64,410.10 115.55,405.96 115.64,401.85 115.91,397.79 116.36,393.80 116.99,389.87 117.80,386.03 118.78,382.28 119.93,378.63 121.26,375.09 122.75,371.68 124.40,368.40 126.20,365.26 128.16,362.26 130.27,359.43 132.51,356.76 134.89,354.26 137.40,351.94 140.03,349.81 142.77,347.87 145.62,346.13 148.57,344.59 151.61,343.25 154.73,342.12 157.93,341.21 161.19,340.51 164.50,340.03 167.87,339.76 171.27,339.72 174.70,339.90 178.14,340.29 181.60,340.90" fill="none" stroke="#d4d4d4" stroke-width="0.78" stroke-linejoin="round" stroke-linecap="round" />
<polyline points="181.60,498.50 177.52,498.00 173.45,497.29 169.41,496.37 165.39,495.24 161.43,493.90 157.51,492.36 153.67,490.61 149.89,488.68 146.21,486.55 142.62,484.24 139.15,481.76 135.78,479.10 132.54,476.28 129.44,473.31 126.48,470.19 123.67,466.93 121.02,463.54 118.54,460.03 116.23,456.41 114.09,452.69 112.15,448.88 110.39,444.99 108.83,441.03 107.47,437.01 106.31,432.95 105.35,428.85 104.61,424.72 104.08,420.58 103.76,416.43 103.65,412.30 103.76,408.19 104.08,404.10 104.61,400.06 105.35,396.08 106.31,392.16 107.47,388.31 108.83,384.55 110.39,380.89 112.15,377.33 114.09,373.89 116.23,370.58 118.54,367.40 121.02,364.36 123.67,361.47 126.48,358.75 129.44,356.19 132.54,353.80 135.78,351.60 139.15,349.58 142.62,347.76 146.21,346.13 149.89,344.70 153.67,343.48 157.51,342.47 161.43,341.67 165.39,341.08 169.41,340.71 173.45,340.56 177.52,340.62 181.60,340.90" fill="none" stroke="#d4d4d4" stroke-width="0.78" stroke-linejoin="round" stroke-linecap="round" />
<polyline points="181.60,498.50 177.30,498.37 173.01,498.03 168.74,497.48 164.51,496.71 160.32,495.73 156.19,494.54 152.14,493.15 148.16,491.55 144.27,489.76 140.49,487.78 136.82,485.61 133.27,483.26 129.86,480.73 126.59,478.04 123.46,475.19 120.50,472.18 117.71,469.03 115.09,465.75 112.65,462.34 110.40,458.81 108.35,455.18 106.49,451.45 104.85,447.63 103.41,443.73 102.19,439.77 101.18,435.76 100.40,431.70 99.83,427.61 99.50,423.49 99.38,419.37 99.50,415.24 99.83,411.13 100.40,407.04 101.18,402.99 102.19,398.98 103.41,395.03 104.85,391.15 106.49,387.35 108.35,383.63 110.40,380.01 112.65,376.50 115.09,373.11 117.71,369.85 120.50,366.73 123.46,363.75 126.59,360.92 129.86,358.25 133.27,355.75 136.82,353.43 140.49,351.29 144.27,349.34 148.16,347.58 152.14,346.01 156.19,344.65 160.32,343.50 164.51,342.55 168.74,341.82 173.01,341.30 177.30,340.99 181.60,340.90" fill="none" stroke="#d4d4d4" stroke-width="0.78" stroke-linejoin="round" stroke-linecap="round" />
<polyline points="181.60,498.50 177.50,498.75 173.40,498.78 169.33,498.59 165.29,498.19 161.30,497.57 157.36,496.73 153.49,495.69 149.70,494.44 145.99,492.98 142.38,491.33 138.88,489.47 135.50,487.43 132.24,485.20 129.12,482.79 126.14,480.21 123.31,477.46 120.65,474.55 118.15,471.49 115.82,468.29 113.67,464.96 111.72,461.50 109.95,457.93 108.38,454.26 107.01,450.49 105.84,446.63 104.88,442.70 104.13,438.71 103.60,434.67 103.27,430.58 103.17,426.47 103.27,422.33 103.60,418.19 104.13,414.06 104.88,409.94 105.84,405.84 107.01,401.79 108.38,397.78 109.95,393.83 111.72,389.96 113.67,386.16 115.82,382.46 118.15,378.86 120.65,375.37 123.31,372.00 126.14,368.77 129.12,365.67 132.24,362.72 135.50,359.93 138.88,357.30 142.38,354.84 145.99,352.56 149.70,350.47 153.49,348.56 157.36,346.85 161.30,345.34 165.29,344.03 169.33,342.93 173.40,342.04 177.50,341.36 181.60,340.90" fill="none" stroke="#d4d4d4" stroke-width="0.78" stroke-linejoin="round" stroke-linecap="round" />
<polyline points="181.60,498.50 178.09,499.08 174.60,499.45 171.12,499.60 167.68,499.52 164.27,499.23 160.90,498.72 157.60,498.00 154.36,497.06 151.19,495.91 148.11,494.55 145.12,492.98 142.23,491.21 139.45,489.25 136.79,487.10 134.24,484.76 131.83,482.24 129.55,479.55 127.42,476.70 125.43,473.69 123.60,470.54 121.93,467.24 120.42,463.82 119.07,460.27 117.90,456.61 116.91,452.85 116.09,449.00 115.45,445.07 114.99,441.07 114.72,437.01 114.63,432.91 114.72,428.76 114.99,424.60 115.45,420.42 116.09,416.23 116.91,412.06 117.90,407.91 119.07,403.79 120.42,399.71 121.93,395.69 123.60,391.74 125.43,387.86 127.42,384.07 129.55,380.37 131.83,376.79 134.24,373.32 136.79,369.98 139.45,366.77 142.23,363.71 145.12,360.81 148.11,358.06 151.19,355.48 154.36,353.08 157.60,350.87 160.90,348.84 164.27,347.00 167.68,345.37 171.12,343.94 174.60,342.71 178.09,341.70 181.60,340.90" fill="none" stroke="#d4d4d4" stroke-width="0.78" stroke-linejoin="round" stroke-linecap="round" />
<polyline points="181.60,498.50 179.04,499.35 176.48,499.99 173.94,500.40 171.42,500.59 168.93,500.56 166.47,500.31 164.06,499.84 161.69,499.15 159.37,498.24 157.12,497.12 154.94,495.78 152.82,494.24 150.79,492.49 148.84,490.54 146.98,488.40 145.22,486.07 143.55,483.55 141.99,480.86 140.54,478.01 139.20,474.99 137.98,471.83 136.87,468.52 135.89,465.07 135.04,461.50 134.31,457.82 133.71,454.03 133.24,450.15 132.91,446.19 132.71,442.15 132.64,438.05 132.71,433.90 132.91,429.71 133.24,425.50 133.71,421.27 134.31,417.03 135.04,412.80 135.89,408.59 136.87,404.41 137.98,400.28 139.20,396.19 140.54,392.17 141.99,388.23 143.55,384.37 145.22,380.61 146.98,376.96 148.84,373.42 150.79,370.01 152.82,366.74 154.94,363.61 157.12,360.63 159.37,357.82 161.69,355.18 164.06,352.71 166.47,350.43 168.93,348.33 171.42,346.44 173.94,344.74 176.48,343.25 179.04,341.97 181.60,340.90" fill="none" stroke="#d4d4d4" stroke-width="0.78" stroke-linejoin="round" stroke-linecap="round" />
<polyline points="181.60,498.50 180.23,499.53 178.87,500.34 177.51,500.92 176.16,501.29 174.83,501.43 173.52,501.35 172.23,501.04 170.96,500.51 169.73,499.76 168.53,498.79 167.36,497.61 166.23,496.21 165.14,494.60 164.10,492.78 163.11,490.76 162.17,488.55 161.28,486.15 160.44,483.57 159.67,480.82 158.95,477.89 158.30,474.81 157.71,471.57 157.19,468.20 156.73,464.69 156.34,461.06 156.02,457.31 155.77,453.46 155.59,449.52 155.49,445.49 155.45,441.40 155.49,437.25 155.59,433.04 155.77,428.81 156.02,424.54 156.34,420.27 156.73,415.99 157.19,411.72 157.71,407.47 158.30,403.26 158.95,399.09 159.67,394.98 160.44,390.94 161.28,386.97 162.17,383.10 163.11,379.32 164.10,375.66 165.14,372.12 166.23,368.70 167.36,365.43 168.53,362.31 169.73,359.34 170.96,356.54 172.23,353.91 173.52,351.46 174.83,349.20 176.16,347.13 177.51,345.26 178.87,343.60 180.23,342.14 181.60,340.90" fill="none" stroke="#d4d4d4" stroke-width="0.78" stroke-linejoin="round" stroke-linecap="round" />
<polyline points="181.60,498.50 181.56,499.59 181.52,500.46 181.48,501.12 181.44,501.54 181.40,501.75 181.36,501.73 181.32,501.48 181.28,501.01 181.24,500.32 181.21,499.41 181.17,498.27 181.14,496.93 181.11,495.37 181.08,493.60 181.05,491.63 181.02,489.46 180.99,487.11 180.97,484.56 180.94,481.84 180.92,478.95 180.90,475.90 180.89,472.69 180.87,469.34 180.86,465.85 180.84,462.24 180.83,458.51 180.83,454.67 180.82,450.74 180.82,446.72 180.82,442.62 180.82,438.47 180.82,434.26 180.83,430.02 180.83,425.74 180.84,421.45 180.86,417.15 180.87,412.86 180.89,408.59 180.90,404.35 180.92,400.15 180.94,396.01 180.97,391.93 180.99,387.93 181.02,384.01 181.05,380.19 181.08,376.48 181.11,372.89 181.14,369.42 181.17,366.10 181.21,362.92 181.24,359.90 181.28,357.04 181.32,354.35 181.36,351.84 181.40,349.52 181.44,347.39 181.48,345.46 181.52,343.73 181.56,342.21 181.60,340.90" fill="none" stroke="#d4d4d4" stroke-width="0.78" stroke-linejoin="round" stroke-linecap="round" />
<polyline points="181.60,498.50 182.89,499.54 184.18,500.36 185.46,500.96 186.73,501.33 187.98,501.48 189.22,501.41 190.44,501.12 191.63,500.60 192.80,499.86 193.93,498.90 195.03,497.72 196.10,496.33 197.12,494.72 198.10,492.92 199.04,490.91 199.93,488.71 200.77,486.31 201.55,483.74 202.28,480.99 202.96,478.07 203.57,474.99 204.13,471.76 204.62,468.39 205.06,464.88 205.42,461.25 205.72,457.51 205.96,453.66 206.13,449.72 206.23,445.70 206.26,441.61 206.23,437.45 206.13,433.25 205.96,429.01 205.72,424.74 205.42,420.46 205.06,416.18 204.62,411.91 204.13,407.66 203.57,403.44 202.96,399.27 202.28,395.15 201.55,391.10 200.77,387.13 199.93,383.25 199.04,379.47 198.10,375.80 197.12,372.25 196.10,368.83 195.03,365.54 193.93,362.41 192.80,359.43 191.63,356.62 190.44,353.98 189.22,351.53 187.98,349.25 186.73,347.18 185.46,345.30 184.18,343.62 182.89,342.15 181.60,340.90" fill="none" stroke="#d4d4d4" stroke-width="0.78" stroke-linejoin="round" stroke-linecap="round" />
<polyline points="181.60,498.50 184.10,499.37 186.59,500.03 189.06,500.46 191.52,500.67 193.94,500.67 196.34,500.43 198.69,499.98 201.00,499.31 203.25,498.42 205.45,497.31 207.58,495.99 209.63,494.47 211.61,492.73 213.51,490.80 215.32,488.67 217.04,486.36 218.66,483.86 220.18,481.18 221.60,478.34 222.90,475.33 224.09,472.17 225.17,468.87 226.12,465.44 226.96,461.87 227.67,458.20 228.25,454.42 228.71,450.54 229.03,446.58 229.23,442.54 229.29,438.44 229.23,434.29 229.03,430.10 228.71,425.88 228.25,421.65 227.67,417.41 226.96,413.17 226.12,408.96 225.17,404.77 224.09,400.62 222.90,396.53 221.60,392.50 220.18,388.54 218.66,384.67 217.04,380.90 215.32,377.23 213.51,373.68 211.61,370.26 209.63,366.97 207.58,363.82 205.45,360.83 203.25,358.00 201.00,355.34 198.69,352.85 196.34,350.55 193.94,348.44 191.52,346.52 189.06,344.80 186.59,343.29 184.10,341.99 181.60,340.90" fill="none" stroke="#d4d4d4" stroke-width="0.78" stroke-linejoin="round" stroke-linecap="round" />
<polyline points="181.60,498.50 185.06,499.11 188.50,499.50 191.93,499.68 195.33,499.64 198.70,499.37 202.01,498.89 205.27,498.19 208.47,497.28 211.59,496.15 214.63,494.81 217.58,493.27 220.43,491.53 223.17,489.59 225.80,487.46 228.31,485.14 230.69,482.64 232.93,479.97 235.04,477.14 237.00,474.14 238.80,471.00 240.45,467.72 241.94,464.31 243.27,460.77 244.42,457.12 245.40,453.37 246.21,449.53 246.84,445.60 247.29,441.61 247.56,437.55 247.65,433.44 247.56,429.30 247.29,425.13 246.84,420.95 246.21,416.76 245.40,412.58 244.42,408.42 243.27,404.29 241.94,400.20 240.45,396.17 238.80,392.20 237.00,388.31 235.04,384.50 232.93,380.79 230.69,377.19 228.31,373.70 225.80,370.34 223.17,367.11 220.43,364.03 217.58,361.10 214.63,358.33 211.59,355.73 208.47,353.30 205.27,351.06 202.01,349.00 198.70,347.14 195.33,345.48 191.93,344.02 188.50,342.77 185.06,341.73 181.60,340.90" fill="none" stroke="#d4d4d4" stroke-width="0.78" stroke-linejoin="round" stroke-linecap="round" />
<polyline points="181.60,498.50 185.68,498.78 189.75,498.84 193.79,498.69 197.81,498.32 201.77,497.73 205.69,496.93 209.53,495.92 213.31,494.70 216.99,493.27 220.57,491.64 224.05,489.82 227.42,487.80 230.66,485.60 233.76,483.21 236.72,480.65 239.53,477.93 242.18,475.04 244.66,472.00 246.97,468.82 249.11,465.51 251.05,462.07 252.81,458.51 254.37,454.85 255.73,451.09 256.89,447.24 257.85,443.32 258.59,439.34 259.12,435.30 259.44,431.21 259.55,427.10 259.44,422.97 259.12,418.82 258.59,414.68 257.85,410.55 256.89,406.45 255.73,402.39 254.37,398.37 252.81,394.41 251.05,390.52 249.11,386.71 246.97,382.99 244.66,379.37 242.18,375.86 239.53,372.47 236.72,369.21 233.76,366.09 230.66,363.12 227.42,360.30 224.05,357.64 220.57,355.16 216.99,352.85 213.31,350.72 209.53,348.79 205.69,347.04 201.77,345.50 197.81,344.16 193.79,343.03 189.75,342.11 185.68,341.40 181.60,340.90" fill="none" stroke="#d4d4d4" stroke-width="0.78" stroke-linejoin="round" stroke-linecap="round" />
<polyline points="181.60,498.50 185.90,498.41 190.19,498.10 194.46,497.58 198.69,496.85 202.88,495.90 207.01,494.75 211.06,493.39 215.04,491.82 218.93,490.06 222.71,488.11 226.38,485.97 229.93,483.65 233.34,481.15 236.61,478.48 239.74,475.65 242.70,472.67 245.49,469.55 248.11,466.29 250.55,462.90 252.80,459.39 254.85,455.77 256.71,452.05 258.35,448.25 259.79,444.37 261.01,440.42 262.02,436.41 262.80,432.36 263.37,428.27 263.70,424.16 263.82,420.03 263.70,415.91 263.37,411.79 262.80,407.70 262.02,403.64 261.01,399.63 259.79,395.67 258.35,391.77 256.71,387.95 254.85,384.22 252.80,380.59 250.55,377.06 248.11,373.65 245.49,370.37 242.70,367.22 239.74,364.21 236.61,361.36 233.34,358.67 229.93,356.14 226.38,353.79 222.71,351.62 218.93,349.64 215.04,347.85 211.06,346.25 207.01,344.86 202.88,343.67 198.69,342.69 194.46,341.92 190.19,341.37 185.90,341.03 181.60,340.90" fill="none" stroke="#d4d4d4" stroke-width="0.78" stroke-linejoin="round" stroke-linecap="round" />
<polyline points="181.60,498.50 185.70,498.04 189.80,497.36 193.87,496.47 197.91,495.37 201.90,494.06 205.84,492.55 209.71,490.84 213.50,488.93 217.21,486.84 220.82,484.56 224.32,482.10 227.70,479.47 230.96,476.68 234.08,473.73 237.06,470.63 239.89,467.40 242.55,464.03 245.05,460.54 247.38,456.94 249.53,453.24 251.48,449.44 253.25,445.57 254.82,441.62 256.19,437.61 257.36,433.56 258.32,429.46 259.07,425.34 259.60,421.21 259.93,417.07 260.03,412.93 259.93,408.82 259.60,404.73 259.07,400.69 258.32,396.70 257.36,392.77 256.19,388.91 254.82,385.14 253.25,381.47 251.48,377.90 249.53,374.44 247.38,371.11 245.05,367.91 242.55,364.85 239.89,361.94 237.06,359.19 234.08,356.61 230.96,354.20 227.70,351.97 224.32,349.93 220.82,348.07 217.21,346.42 213.50,344.96 209.71,343.71 205.84,342.67 201.90,341.83 197.91,341.21 193.87,340.81 189.80,340.62 185.70,340.65 181.60,340.90" fill="none" stroke="#d4d4d4" stroke-width="0.78" stroke-linejoin="round" stroke-linecap="round" />
<polyline points="181.60,498.50 185.11,497.70 188.60,496.69 192.08,495.46 195.52,494.03 198.93,492.40 202.30,490.56 205.60,488.53 208.84,486.32 212.01,483.92 215.09,481.34 218.08,478.59 220.97,475.69 223.75,472.63 226.41,469.42 228.96,466.08 231.37,462.61 233.65,459.03 235.78,455.33 237.77,451.54 239.60,447.66 241.27,443.71 242.78,439.69 244.13,435.61 245.30,431.49 246.29,427.34 247.11,423.17 247.75,418.98 248.21,414.80 248.48,410.64 248.57,406.49 248.48,402.39 248.21,398.33 247.75,394.33 247.11,390.40 246.29,386.55 245.30,382.79 244.13,379.13 242.78,375.58 241.27,372.16 239.60,368.86 237.77,365.71 235.78,362.70 233.65,359.85 231.37,357.16 228.96,354.64 226.41,352.30 223.75,350.15 220.97,348.19 218.08,346.42 215.09,344.85 212.01,343.49 208.84,342.34 205.60,341.40 202.30,340.68 198.93,340.17 195.52,339.88 192.08,339.80 188.60,339.95 185.11,340.32 181.60,340.90" fill="none" stroke="#d4d4d4" stroke-width="0.78" stroke-linejoin="round" stroke-linecap="round" />
<polyline points="181.60,498.50 184.16,497.43 186.72,496.15 189.26,494.66 191.78,492.96 194.27,491.07 196.73,488.97 199.14,486.69 201.51,484.22 203.83,481.58 206.08,478.77 208.26,475.79 210.38,472.66 212.41,469.39 214.36,465.98 216.22,462.44 217.98,458.79 219.65,455.03 221.21,451.17 222.66,447.23 224.00,443.21 225.22,439.12 226.33,434.99 227.31,430.81 228.16,426.60 228.89,422.37 229.49,418.13 229.96,413.90 230.29,409.69 230.49,405.50 230.56,401.35 230.49,397.25 230.29,393.21 229.96,389.25 229.49,385.37 228.89,381.58 228.16,377.90 227.31,374.33 226.33,370.88 225.22,367.57 224.00,364.41 222.66,361.39 221.21,358.54 219.65,355.85 217.98,353.33 216.22,351.00 214.36,348.86 212.41,346.91 210.38,345.16 208.26,343.62 206.08,342.28 203.83,341.16 201.51,340.25 199.14,339.56 196.73,339.09 194.27,338.84 191.78,338.81 189.26,339.00 186.72,339.41 184.16,340.05 181.60,340.90" fill="none" stroke="#d4d4d4" stroke-width="0.78" stroke-linejoin="round" stroke-linecap="round" />
<polyline points="185.69,494.14 184.72,494.05 183.73,494.00 182.73,493.96 181.72,493.94 180.71,493.95 179.71,493.98 178.72,494.03 177.74,494.10 176.79,494.20 175.87,494.31 174.98,494.44 174.14,494.60 173.34,494.77 172.59,494.96 171.90,495.16 171.27,495.38 170.70,495.61 170.20,495.86 169.76,496.11 169.41,496.37 169.12,496.64 168.92,496.92 168.79,497.20 168.74,497.48 168.77,497.76 168.88,498.04 169.07,498.32 169.33,498.59 169.67,498.85 170.08,499.11 170.57,499.36 171.12,499.60 171.74,499.82 172.42,500.03 173.15,500.22 173.94,500.40 174.78,500.56 175.65,500.70 176.57,500.82 177.51,500.92 178.48,501.00 179.47,501.06 180.47,501.10 181.48,501.12 182.49,501.11 183.49,501.08 184.48,501.03 185.46,500.96 186.41,500.86 187.33,500.75 188.22,500.61 189.06,500.46 189.86,500.29 190.61,500.10 191.30,499.90 191.93,499.68 192.50,499.45 193.00,499.20 193.44,498.95 193.79,498.69 194.08,498.42 194.28,498.14 194.41,497.86 194.46,497.58 194.43,497.30 194.32,497.02 194.13,496.74 193.87,496.47 193.53,496.21 193.12,495.95 192.63,495.70 192.08,495.46 191.46,495.24 190.78,495.03 190.05,494.84 189.26,494.66 188.42,494.50 187.55,494.36 186.63,494.24 185.69,494.14" fill="none" stroke="#d4d4d4" stroke-width="0.78" stroke-linejoin="round" stroke-linecap="round" />
<polyline points="189.68,487.94 187.77,487.78 185.81,487.66 183.83,487.59 181.84,487.56 179.85,487.57 177.86,487.63 175.90,487.73 173.98,487.87 172.10,488.06 170.28,488.28 168.53,488.55 166.86,488.85 165.28,489.19 163.81,489.56 162.44,489.96 161.19,490.40 160.06,490.85 159.07,491.34 158.22,491.84 157.51,492.36 156.95,492.89 156.54,493.43 156.29,493.99 156.19,494.54 156.25,495.10 156.47,495.65 156.84,496.20 157.36,496.73 158.04,497.26 158.85,497.77 159.81,498.26 160.90,498.72 162.12,499.17 163.46,499.58 164.92,499.96 166.47,500.31 168.12,500.63 169.85,500.91 171.65,501.15 173.52,501.35 175.43,501.51 177.39,501.62 179.37,501.70 181.36,501.73 183.35,501.71 185.34,501.66 187.30,501.56 189.22,501.41 191.10,501.23 192.92,501.00 194.67,500.74 196.34,500.43 197.92,500.10 199.39,499.73 200.76,499.32 202.01,498.89 203.14,498.43 204.13,497.95 204.98,497.45 205.69,496.93 206.25,496.40 206.66,495.85 206.91,495.30 207.01,494.75 206.95,494.19 206.73,493.64 206.36,493.09 205.84,492.55 205.16,492.03 204.35,491.52 203.39,491.03 202.30,490.56 201.08,490.12 199.74,489.71 198.28,489.32 196.73,488.97 195.08,488.66 193.35,488.38 191.55,488.14 189.68,487.94" fill="none" stroke="#d4d4d4" stroke-width="0.78" stroke-linejoin="round" stroke-linecap="round" />
<polyline points="193.47,480.06 190.66,479.83 187.79,479.66 184.88,479.55 181.96,479.50 179.03,479.52 176.11,479.61 173.23,479.76 170.40,479.97 167.64,480.24 164.97,480.57 162.40,480.96 159.95,481.40 157.63,481.90 155.46,482.45 153.45,483.04 151.61,483.67 149.96,484.34 148.50,485.05 147.25,485.79 146.21,486.55 145.39,487.34 144.79,488.13 144.42,488.94 144.27,489.76 144.36,490.58 144.68,491.39 145.22,492.19 145.99,492.98 146.98,493.75 148.18,494.50 149.59,495.22 151.19,495.91 152.99,496.56 154.96,497.16 157.09,497.73 159.37,498.24 161.79,498.71 164.34,499.12 166.99,499.47 169.73,499.76 172.54,500.00 175.41,500.17 178.32,500.27 181.24,500.32 184.17,500.30 187.09,500.21 189.97,500.07 192.80,499.86 195.56,499.58 198.23,499.25 200.80,498.86 203.25,498.42 205.57,497.92 207.74,497.38 209.75,496.79 211.59,496.15 213.24,495.48 214.70,494.77 215.95,494.03 216.99,493.27 217.81,492.49 218.41,491.69 218.78,490.88 218.93,490.06 218.84,489.25 218.52,488.43 217.98,487.63 217.21,486.84 216.22,486.07 215.02,485.32 213.61,484.60 212.01,483.92 210.21,483.27 208.24,482.66 206.11,482.10 203.83,481.58 201.41,481.12 198.86,480.71 196.21,480.35 193.47,480.06" fill="none" stroke="#d4d4d4" stroke-width="0.78" stroke-linejoin="round" stroke-linecap="round" />
<polyline points="196.97,470.70 193.33,470.39 189.61,470.17 185.85,470.03 182.06,469.98 178.27,470.00 174.49,470.11 170.77,470.30 167.10,470.57 163.53,470.93 160.07,471.36 156.74,471.86 153.57,472.43 150.56,473.08 147.75,473.78 145.15,474.55 142.77,475.37 140.64,476.24 138.75,477.16 137.13,478.11 135.78,479.10 134.72,480.12 133.94,481.15 133.46,482.20 133.27,483.26 133.39,484.31 133.80,485.37 134.50,486.41 135.50,487.43 136.78,488.43 138.33,489.39 140.16,490.32 142.23,491.21 144.55,492.05 147.10,492.84 149.87,493.57 152.82,494.24 155.96,494.84 159.25,495.37 162.68,495.82 166.23,496.21 169.87,496.51 173.59,496.73 177.35,496.87 181.14,496.93 184.93,496.90 188.71,496.79 192.43,496.60 196.10,496.33 199.67,495.97 203.13,495.55 206.46,495.04 209.63,494.47 212.64,493.82 215.45,493.12 218.05,492.35 220.43,491.53 222.56,490.66 224.45,489.74 226.07,488.79 227.42,487.80 228.48,486.79 229.26,485.75 229.74,484.70 229.93,483.65 229.81,482.59 229.40,481.54 228.70,480.49 227.70,479.47 226.42,478.47 224.87,477.51 223.04,476.58 220.97,475.69 218.65,474.85 216.10,474.06 213.33,473.33 210.38,472.66 207.24,472.06 203.95,471.53 200.52,471.08 196.97,470.70" fill="none" stroke="#d4d4d4" stroke-width="0.78" stroke-linejoin="round" stroke-linecap="round" />
<polyline points="200.09,460.08 195.71,459.71 191.24,459.45 186.71,459.28 182.15,459.21 177.59,459.24 173.05,459.37 168.57,459.60 164.16,459.93 159.86,460.35 155.70,460.87 151.70,461.48 147.88,462.17 144.26,462.94 140.88,463.79 137.75,464.71 134.89,465.70 132.32,466.75 130.05,467.85 128.10,469.00 126.48,470.19 125.20,471.41 124.27,472.65 123.69,473.91 123.46,475.19 123.60,476.46 124.09,477.72 124.94,478.98 126.14,480.21 127.68,481.41 129.55,482.57 131.74,483.69 134.24,484.76 137.03,485.77 140.10,486.72 143.42,487.59 146.98,488.40 150.75,489.12 154.71,489.76 158.84,490.31 163.11,490.76 167.49,491.13 171.96,491.39 176.49,491.56 181.05,491.63 185.61,491.60 190.15,491.47 194.63,491.24 199.04,490.91 203.34,490.49 207.50,489.97 211.50,489.36 215.32,488.67 218.94,487.90 222.32,487.05 225.45,486.13 228.31,485.14 230.88,484.09 233.15,482.99 235.10,481.84 236.72,480.65 238.00,479.43 238.93,478.19 239.51,476.93 239.74,475.65 239.60,474.38 239.11,473.12 238.26,471.86 237.06,470.63 235.52,469.43 233.65,468.27 231.46,467.15 228.96,466.08 226.17,465.07 223.10,464.12 219.78,463.25 216.22,462.44 212.45,461.72 208.49,461.08 204.36,460.53 200.09,460.08" fill="none" stroke="#d4d4d4" stroke-width="0.78" stroke-linejoin="round" stroke-linecap="round" />
<polyline points="202.76,448.46 197.74,448.05 192.63,447.74 187.45,447.55 182.23,447.47 177.01,447.51 171.82,447.66 166.69,447.92 161.65,448.30 156.73,448.78 151.97,449.37 147.39,450.06 143.02,450.86 138.88,451.74 135.02,452.71 131.43,453.77 128.16,454.90 125.22,456.10 122.62,457.36 120.39,458.67 118.54,460.03 117.07,461.43 116.00,462.85 115.34,464.29 115.09,465.75 115.24,467.20 115.81,468.65 116.78,470.09 118.15,471.49 119.91,472.87 122.05,474.20 124.56,475.48 127.42,476.70 130.61,477.86 134.12,478.94 137.92,479.95 141.99,480.86 146.31,481.69 150.84,482.42 155.56,483.05 160.44,483.57 165.46,483.99 170.57,484.29 175.75,484.49 180.97,484.56 186.19,484.53 191.38,484.38 196.51,484.11 201.55,483.74 206.47,483.25 211.23,482.66 215.81,481.97 220.18,481.18 224.32,480.29 228.18,479.32 231.77,478.27 235.04,477.14 237.98,475.94 240.58,474.68 242.81,473.36 244.66,472.00 246.13,470.61 247.20,469.18 247.86,467.74 248.11,466.29 247.96,464.83 247.39,463.38 246.42,461.95 245.05,460.54 243.29,459.17 241.15,457.84 238.64,456.56 235.78,455.33 232.59,454.18 229.08,453.09 225.28,452.09 221.21,451.17 216.89,450.34 212.36,449.61 207.64,448.99 202.76,448.46" fill="none" stroke="#d4d4d4" stroke-width="0.78" stroke-linejoin="round" stroke-linecap="round" />
<polyline points="204.90,436.14 199.38,435.68 193.75,435.35 188.04,435.13 182.30,435.05 176.55,435.09 170.83,435.25 165.18,435.54 159.63,435.96 154.21,436.49 148.96,437.14 143.92,437.90 139.11,438.78 134.55,439.75 130.29,440.82 126.35,441.98 122.75,443.23 119.50,444.55 116.65,445.94 114.19,447.38 112.15,448.88 110.53,450.42 109.36,451.99 108.63,453.58 108.35,455.18 108.52,456.78 109.14,458.38 110.21,459.96 111.72,461.50 113.65,463.02 116.01,464.48 118.78,465.89 121.93,467.24 125.44,468.52 129.31,469.71 133.49,470.81 137.98,471.83 142.73,472.74 147.72,473.54 152.92,474.23 158.30,474.81 163.82,475.27 169.45,475.60 175.16,475.81 180.90,475.90 186.65,475.86 192.37,475.70 198.02,475.41 203.57,474.99 208.99,474.46 214.24,473.81 219.28,473.05 224.09,472.17 228.65,471.20 232.91,470.13 236.85,468.97 240.45,467.72 243.70,466.40 246.55,465.01 249.01,463.56 251.05,462.07 252.67,460.53 253.84,458.96 254.57,457.37 254.85,455.77 254.68,454.17 254.06,452.57 252.99,450.99 251.48,449.44 249.55,447.93 247.19,446.46 244.42,445.05 241.27,443.71 237.76,442.43 233.89,441.24 229.71,440.13 225.22,439.12 220.47,438.21 215.48,437.41 210.28,436.72 204.90,436.14" fill="none" stroke="#d4d4d4" stroke-width="0.78" stroke-linejoin="round" stroke-linecap="round" />
<polyline points="206.47,423.41 200.58,422.92 194.57,422.57 188.48,422.34 182.34,422.25 176.21,422.29 170.10,422.47 164.07,422.78 158.14,423.22 152.36,423.79 146.76,424.48 141.38,425.30 136.24,426.23 131.38,427.27 126.84,428.41 122.63,429.65 118.78,430.98 115.32,432.39 112.27,433.87 109.64,435.42 107.47,437.01 105.74,438.65 104.49,440.33 103.71,442.03 103.41,443.73 103.59,445.45 104.25,447.15 105.40,448.83 107.01,450.49 109.08,452.10 111.59,453.67 114.54,455.17 117.90,456.61 121.66,457.97 125.78,459.24 130.25,460.42 135.04,461.50 140.11,462.48 145.44,463.33 150.99,464.07 156.73,464.69 162.62,465.18 168.63,465.54 174.72,465.76 180.86,465.85 186.99,465.81 193.10,465.63 199.13,465.32 205.06,464.88 210.84,464.31 216.44,463.62 221.82,462.81 226.96,461.87 231.82,460.83 236.36,459.69 240.57,458.45 244.42,457.12 247.88,455.71 250.93,454.23 253.56,452.69 255.73,451.09 257.46,449.45 258.71,447.77 259.49,446.08 259.79,444.37 259.61,442.65 258.95,440.95 257.80,439.27 256.19,437.61 254.12,436.00 251.61,434.43 248.66,432.93 245.30,431.49 241.54,430.13 237.42,428.86 232.95,427.68 228.16,426.60 223.09,425.63 217.76,424.77 212.21,424.03 206.47,423.41" fill="none" stroke="#d4d4d4" stroke-width="0.78" stroke-linejoin="round" stroke-linecap="round" />
<polyline points="207.43,410.59 201.31,410.09 195.07,409.71 188.74,409.48 182.37,409.38 176.00,409.43 169.66,409.61 163.39,409.93 157.24,410.39 151.24,410.98 145.42,411.70 139.83,412.55 134.49,413.52 129.45,414.60 124.73,415.78 120.35,417.07 116.36,418.45 112.77,419.92 109.60,421.46 106.87,423.06 104.61,424.72 102.82,426.42 101.52,428.16 100.71,429.92 100.40,431.70 100.59,433.48 101.28,435.25 102.46,436.99 104.13,438.71 106.28,440.39 108.90,442.01 111.96,443.58 115.45,445.07 119.35,446.48 123.63,447.81 128.28,449.03 133.24,450.15 138.51,451.16 144.05,452.05 149.81,452.82 155.77,453.46 161.89,453.97 168.13,454.34 174.46,454.57 180.83,454.67 187.20,454.63 193.54,454.44 199.81,454.12 205.96,453.66 211.96,453.07 217.78,452.35 223.37,451.50 228.71,450.54 233.75,449.46 238.47,448.27 242.85,446.98 246.84,445.60 250.43,444.14 253.60,442.60 256.33,440.99 258.59,439.34 260.38,437.63 261.68,435.89 262.49,434.13 262.80,432.36 262.61,430.58 261.92,428.81 260.74,427.06 259.07,425.34 256.92,423.67 254.30,422.04 251.24,420.48 247.75,418.98 243.85,417.57 239.57,416.25 234.92,415.02 229.96,413.90 224.69,412.89 219.15,412.00 213.39,411.23 207.43,410.59" fill="none" stroke="#d4d4d4" stroke-width="0.78" stroke-linejoin="round" stroke-linecap="round" />
<polyline points="207.75,398.00 201.55,397.49 195.23,397.11 188.83,396.87 182.38,396.78 175.93,396.82 169.51,397.01 163.17,397.33 156.94,397.79 150.86,398.39 144.97,399.12 139.31,399.98 133.91,400.96 128.80,402.05 124.02,403.25 119.59,404.56 115.55,405.96 111.91,407.44 108.70,409.00 105.94,410.62 103.65,412.30 101.84,414.03 100.52,415.79 99.70,417.57 99.38,419.37 99.58,421.17 100.27,422.96 101.47,424.73 103.17,426.47 105.34,428.17 107.99,429.81 111.09,431.39 114.63,432.91 118.57,434.34 122.91,435.68 127.61,436.92 132.64,438.05 137.98,439.07 143.58,439.98 149.41,440.75 155.45,441.40 161.65,441.91 167.97,442.29 174.37,442.53 180.82,442.62 187.27,442.58 193.69,442.39 200.03,442.07 206.26,441.61 212.34,441.01 218.23,440.28 223.89,439.42 229.29,438.44 234.40,437.35 239.18,436.15 243.61,434.84 247.65,433.44 251.29,431.96 254.50,430.40 257.26,428.78 259.55,427.10 261.36,425.37 262.68,423.61 263.50,421.83 263.82,420.03 263.62,418.23 262.93,416.44 261.73,414.67 260.03,412.93 257.86,411.23 255.21,409.59 252.11,408.01 248.57,406.49 244.63,405.06 240.29,403.72 235.59,402.48 230.56,401.35 225.22,400.33 219.62,399.42 213.79,398.65 207.75,398.00" fill="none" stroke="#d4d4d4" stroke-width="0.78" stroke-linejoin="round" stroke-linecap="round" />
<polyline points="207.43,385.94 201.31,385.43 195.07,385.06 188.74,384.83 182.37,384.73 176.00,384.77 169.66,384.96 163.39,385.28 157.24,385.74 151.24,386.33 145.42,387.05 139.83,387.90 134.49,388.86 129.45,389.94 124.73,391.13 120.35,392.42 116.36,393.80 112.77,395.26 109.60,396.80 106.87,398.41 104.61,400.06 102.82,401.77 101.52,403.51 100.71,405.27 100.40,407.04 100.59,408.82 101.28,410.59 102.46,412.34 104.13,414.06 106.28,415.73 108.90,417.36 111.96,418.92 115.45,420.42 119.35,421.83 123.63,423.15 128.28,424.38 133.24,425.50 138.51,426.51 144.05,427.40 149.81,428.17 155.77,428.81 161.89,429.31 168.13,429.69 174.46,429.92 180.83,430.02 187.20,429.97 193.54,429.79 199.81,429.47 205.96,429.01 211.96,428.42 217.78,427.70 223.37,426.85 228.71,425.88 233.75,424.80 238.47,423.62 242.85,422.33 246.84,420.95 250.43,419.48 253.60,417.94 256.33,416.34 258.59,414.68 260.38,412.98 261.68,411.24 262.49,409.48 262.80,407.70 262.61,405.92 261.92,404.15 260.74,402.41 259.07,400.69 256.92,399.01 254.30,397.39 251.24,395.82 247.75,394.33 243.85,392.92 239.57,391.59 234.92,390.37 229.96,389.25 224.69,388.24 219.15,387.35 213.39,386.58 207.43,385.94" fill="none" stroke="#d4d4d4" stroke-width="0.78" stroke-linejoin="round" stroke-linecap="round" />
<polyline points="206.47,374.71 200.58,374.22 194.57,373.86 188.48,373.64 182.34,373.55 176.21,373.59 170.10,373.77 164.07,374.08 158.14,374.52 152.36,375.09 146.76,375.78 141.38,376.59 136.24,377.53 131.38,378.57 126.84,379.71 122.63,380.95 118.78,382.28 115.32,383.69 112.27,385.17 109.64,386.71 107.47,388.31 105.74,389.95 104.49,391.63 103.71,393.32 103.41,395.03 103.59,396.75 104.25,398.45 105.40,400.13 107.01,401.79 109.08,403.40 111.59,404.97 114.54,406.47 117.90,407.91 121.66,409.27 125.78,410.54 130.25,411.72 135.04,412.80 140.11,413.77 145.44,414.63 150.99,415.37 156.73,415.99 162.62,416.48 168.63,416.83 174.72,417.06 180.86,417.15 186.99,417.11 193.10,416.93 199.13,416.62 205.06,416.18 210.84,415.61 216.44,414.92 221.82,414.10 226.96,413.17 231.82,412.13 236.36,410.99 240.57,409.75 244.42,408.42 247.88,407.01 250.93,405.53 253.56,403.98 255.73,402.39 257.46,400.75 258.71,399.07 259.49,397.37 259.79,395.67 259.61,393.95 258.95,392.25 257.80,390.57 256.19,388.91 254.12,387.30 251.61,385.73 248.66,384.23 245.30,382.79 241.54,381.43 237.42,380.16 232.95,378.98 228.16,377.90 223.09,376.92 217.76,376.07 212.21,375.33 206.47,374.71" fill="none" stroke="#d4d4d4" stroke-width="0.78" stroke-linejoin="round" stroke-linecap="round" />
<polyline points="204.90,364.59 199.38,364.13 193.75,363.80 188.04,363.59 182.30,363.50 176.55,363.54 170.83,363.70 165.18,363.99 159.63,364.41 154.21,364.94 148.96,365.59 143.92,366.35 139.11,367.23 134.55,368.20 130.29,369.27 126.35,370.43 122.75,371.68 119.50,373.00 116.65,374.39 114.19,375.84 112.15,377.33 110.53,378.87 109.36,380.44 108.63,382.03 108.35,383.63 108.52,385.23 109.14,386.83 110.21,388.41 111.72,389.96 113.65,391.47 116.01,392.94 118.78,394.35 121.93,395.69 125.44,396.97 129.31,398.16 133.49,399.27 137.98,400.28 142.73,401.19 147.72,401.99 152.92,402.68 158.30,403.26 163.82,403.72 169.45,404.05 175.16,404.27 180.90,404.35 186.65,404.31 192.37,404.15 198.02,403.86 203.57,403.44 208.99,402.91 214.24,402.26 219.28,401.50 224.09,400.62 228.65,399.65 232.91,398.58 236.85,397.42 240.45,396.17 243.70,394.85 246.55,393.46 249.01,392.02 251.05,390.52 252.67,388.98 253.84,387.41 254.57,385.82 254.85,384.22 254.68,382.62 254.06,381.02 252.99,379.44 251.48,377.90 249.55,376.38 247.19,374.92 244.42,373.51 241.27,372.16 237.76,370.88 233.89,369.69 229.71,368.59 225.22,367.57 220.47,366.66 215.48,365.86 210.28,365.17 204.90,364.59" fill="none" stroke="#d4d4d4" stroke-width="0.78" stroke-linejoin="round" stroke-linecap="round" />
<polyline points="202.76,355.83 197.74,355.41 192.63,355.11 187.45,354.91 182.23,354.84 177.01,354.87 171.82,355.02 166.69,355.29 161.65,355.66 156.73,356.15 151.97,356.74 147.39,357.43 143.02,358.22 138.88,359.11 135.02,360.08 131.43,361.13 128.16,362.26 125.22,363.46 122.62,364.72 120.39,366.04 118.54,367.40 117.07,368.79 116.00,370.22 115.34,371.66 115.09,373.11 115.24,374.57 115.81,376.02 116.78,377.45 118.15,378.86 119.91,380.23 122.05,381.56 124.56,382.84 127.42,384.07 130.61,385.22 134.12,386.31 137.92,387.31 141.99,388.23 146.31,389.06 150.84,389.79 155.56,390.41 160.44,390.94 165.46,391.35 170.57,391.66 175.75,391.85 180.97,391.93 186.19,391.89 191.38,391.74 196.51,391.48 201.55,391.10 206.47,390.62 211.23,390.03 215.81,389.34 220.18,388.54 224.32,387.66 228.18,386.69 231.77,385.63 235.04,384.50 237.98,383.30 240.58,382.04 242.81,380.73 244.66,379.37 246.13,377.97 247.20,376.55 247.86,375.11 248.11,373.65 247.96,372.20 247.39,370.75 246.42,369.31 245.05,367.91 243.29,366.53 241.15,365.20 238.64,363.92 235.78,362.70 232.59,361.54 229.08,360.46 225.28,359.45 221.21,358.54 216.89,357.71 212.36,356.98 207.64,356.35 202.76,355.83" fill="none" stroke="#d4d4d4" stroke-width="0.78" stroke-linejoin="round" stroke-linecap="round" />
<polyline points="200.09,348.64 195.71,348.27 191.24,348.01 186.71,347.84 182.15,347.77 177.59,347.80 173.05,347.93 168.57,348.16 164.16,348.49 159.86,348.91 155.70,349.43 151.70,350.04 147.88,350.73 144.26,351.50 140.88,352.35 137.75,353.27 134.89,354.26 132.32,355.31 130.05,356.41 128.10,357.56 126.48,358.75 125.20,359.97 124.27,361.21 123.69,362.47 123.46,363.75 123.60,365.02 124.09,366.28 124.94,367.54 126.14,368.77 127.68,369.97 129.55,371.13 131.74,372.25 134.24,373.32 137.03,374.33 140.10,375.28 143.42,376.15 146.98,376.96 150.75,377.68 154.71,378.32 158.84,378.87 163.11,379.32 167.49,379.69 171.96,379.95 176.49,380.12 181.05,380.19 185.61,380.16 190.15,380.03 194.63,379.80 199.04,379.47 203.34,379.05 207.50,378.53 211.50,377.92 215.32,377.23 218.94,376.46 222.32,375.61 225.45,374.69 228.31,373.70 230.88,372.65 233.15,371.55 235.10,370.40 236.72,369.21 238.00,367.99 238.93,366.75 239.51,365.49 239.74,364.21 239.60,362.94 239.11,361.68 238.26,360.42 237.06,359.19 235.52,357.99 233.65,356.83 231.46,355.71 228.96,354.64 226.17,353.63 223.10,352.68 219.78,351.81 216.22,351.00 212.45,350.28 208.49,349.64 204.36,349.09 200.09,348.64" fill="none" stroke="#d4d4d4" stroke-width="0.78" stroke-linejoin="round" stroke-linecap="round" />
<polyline points="196.97,343.19 193.33,342.89 189.61,342.67 185.85,342.53 182.06,342.47 178.27,342.50 174.49,342.61 170.77,342.80 167.10,343.07 163.53,343.43 160.07,343.85 156.74,344.36 153.57,344.93 150.56,345.58 147.75,346.28 145.15,347.05 142.77,347.87 140.64,348.74 138.75,349.66 137.13,350.61 135.78,351.60 134.72,352.61 133.94,353.65 133.46,354.70 133.27,355.75 133.39,356.81 133.80,357.86 134.50,358.91 135.50,359.93 136.78,360.93 138.33,361.89 140.16,362.82 142.23,363.71 144.55,364.55 147.10,365.34 149.87,366.07 152.82,366.74 155.96,367.34 159.25,367.87 162.68,368.32 166.23,368.70 169.87,369.01 173.59,369.23 177.35,369.37 181.14,369.42 184.93,369.40 188.71,369.29 192.43,369.10 196.10,368.83 199.67,368.47 203.13,368.04 206.46,367.54 209.63,366.97 212.64,366.32 215.45,365.62 218.05,364.85 220.43,364.03 222.56,363.16 224.45,362.24 226.07,361.29 227.42,360.30 228.48,359.28 229.26,358.25 229.74,357.20 229.93,356.14 229.81,355.09 229.40,354.03 228.70,352.99 227.70,351.97 226.42,350.97 224.87,350.01 223.04,349.08 220.97,348.19 218.65,347.35 216.10,346.56 213.33,345.83 210.38,345.16 207.24,344.56 203.95,344.03 200.52,343.58 196.97,343.19" fill="none" stroke="#d4d4d4" stroke-width="0.78" stroke-linejoin="round" stroke-linecap="round" />
<polyline points="193.47,339.64 190.66,339.40 187.79,339.23 184.88,339.13 181.96,339.08 179.03,339.10 176.11,339.19 173.23,339.33 170.40,339.54 167.64,339.82 164.97,340.15 162.40,340.54 159.95,340.98 157.63,341.48 155.46,342.02 153.45,342.61 151.61,343.25 149.96,343.92 148.50,344.63 147.25,345.37 146.21,346.13 145.39,346.91 144.79,347.71 144.42,348.52 144.27,349.34 144.36,350.15 144.68,350.97 145.22,351.77 145.99,352.56 146.98,353.33 148.18,354.08 149.59,354.80 151.19,355.48 152.99,356.13 154.96,356.74 157.09,357.30 159.37,357.82 161.79,358.28 164.34,358.69 166.99,359.05 169.73,359.34 172.54,359.57 175.41,359.74 178.32,359.85 181.24,359.90 184.17,359.88 187.09,359.79 189.97,359.64 192.80,359.43 195.56,359.16 198.23,358.83 200.80,358.44 203.25,358.00 205.57,357.50 207.74,356.95 209.75,356.36 211.59,355.73 213.24,355.06 214.70,354.35 215.95,353.61 216.99,352.85 217.81,352.06 218.41,351.27 218.78,350.46 218.93,349.64 218.84,348.82 218.52,348.01 217.98,347.21 217.21,346.42 216.22,345.65 215.02,344.90 213.61,344.18 212.01,343.49 210.21,342.84 208.24,342.24 206.11,341.67 203.83,341.16 201.41,340.69 198.86,340.28 196.21,339.93 193.47,339.64" fill="none" stroke="#d4d4d4" stroke-width="0.78" stroke-linejoin="round" stroke-linecap="round" />
<polyline points="189.68,338.05 187.77,337.89 185.81,337.78 183.83,337.70 181.84,337.67 179.85,337.69 177.86,337.74 175.90,337.84 173.98,337.99 172.10,338.17 170.28,338.40 168.53,338.66 166.86,338.97 165.28,339.30 163.81,339.67 162.44,340.08 161.19,340.51 160.06,340.97 159.07,341.45 158.22,341.95 157.51,342.47 156.95,343.00 156.54,343.55 156.29,344.10 156.19,344.65 156.25,345.21 156.47,345.76 156.84,346.31 157.36,346.85 158.04,347.37 158.85,347.88 159.81,348.37 160.90,348.84 162.12,349.28 163.46,349.69 164.92,350.08 166.47,350.43 168.12,350.74 169.85,351.02 171.65,351.26 173.52,351.46 175.43,351.62 177.39,351.74 179.37,351.81 181.36,351.84 183.35,351.83 185.34,351.77 187.30,351.67 189.22,351.53 191.10,351.34 192.92,351.12 194.67,350.85 196.34,350.55 197.92,350.21 199.39,349.84 200.76,349.44 202.01,349.00 203.14,348.55 204.13,348.06 204.98,347.56 205.69,347.04 206.25,346.51 206.66,345.97 206.91,345.41 207.01,344.86 206.95,344.30 206.73,343.75 206.36,343.20 205.84,342.67 205.16,342.14 204.35,341.63 203.39,341.14 202.30,340.68 201.08,340.23 199.74,339.82 198.28,339.44 196.73,339.09 195.08,338.77 193.35,338.49 191.55,338.25 189.68,338.05" fill="none" stroke="#d4d4d4" stroke-width="0.78" stroke-linejoin="round" stroke-linecap="round" />
<polyline points="185.69,338.48 184.72,338.40 183.73,338.34 182.73,338.30 181.72,338.28 180.71,338.29 179.71,338.32 178.72,338.37 177.74,338.44 176.79,338.54 175.87,338.65 174.98,338.79 174.14,338.94 173.34,339.11 172.59,339.30 171.90,339.50 171.27,339.72 170.70,339.95 170.20,340.20 169.76,340.45 169.41,340.71 169.12,340.98 168.92,341.26 168.79,341.54 168.74,341.82 168.77,342.10 168.88,342.38 169.07,342.66 169.33,342.93 169.67,343.19 170.08,343.45 170.57,343.70 171.12,343.94 171.74,344.16 172.42,344.37 173.15,344.56 173.94,344.74 174.78,344.90 175.65,345.04 176.57,345.16 177.51,345.26 178.48,345.35 179.47,345.40 180.47,345.44 181.48,345.46 182.49,345.45 183.49,345.42 184.48,345.37 185.46,345.30 186.41,345.20 187.33,345.09 188.22,344.96 189.06,344.80 189.86,344.63 190.61,344.44 191.30,344.24 191.93,344.02 192.50,343.79 193.00,343.54 193.44,343.29 193.79,343.03 194.08,342.76 194.28,342.48 194.41,342.20 194.46,341.92 194.43,341.64 194.32,341.36 194.13,341.08 193.87,340.81 193.53,340.55 193.12,340.29 192.63,340.04 192.08,339.80 191.46,339.58 190.78,339.37 190.05,339.18 189.26,339.00 188.42,338.84 187.55,338.70 186.63,338.58 185.69,338.48" fill="none" stroke="#d4d4d4" stroke-width="0.78" stroke-linejoin="round" stroke-linecap="round" />
<line x1="77.50" y1="513.30" x2="77.50" y2="354.70" stroke="#6e6e6e" stroke-width="1.2" />
<line x1="77.50" y1="512.80" x2="233.40" y2="527.60" stroke="#262626" stroke-width="1" />
<line x1="233.40" y1="527.60" x2="285.70" y2="484.20" stroke="#262626" stroke-width="1" />
<line x1="77.50" y1="512.80" x2="73.32" y2="512.40" stroke="#262626" stroke-width="1" />
<line x1="77.50" y1="434.00" x2="73.32" y2="433.60" stroke="#262626" stroke-width="1" />
<line x1="77.50" y1="355.20" x2="73.32" y2="354.80" stroke="#262626" stroke-width="1" />
<line x1="77.50" y1="512.80" x2="74.42" y2="515.35" stroke="#262626" stroke-width="1" />
<line x1="233.40" y1="527.60" x2="237.38" y2="527.98" stroke="#262626" stroke-width="1" />
<line x1="155.45" y1="520.20" x2="152.37" y2="522.75" stroke="#262626" stroke-width="1" />
<line x1="259.55" y1="505.90" x2="263.53" y2="506.28" stroke="#262626" stroke-width="1" />
<line x1="233.40" y1="527.60" x2="230.32" y2="530.15" stroke="#262626" stroke-width="1" />
<line x1="285.70" y1="484.20" x2="289.68" y2="484.58" stroke="#262626" stroke-width="1" />
<text x="45.20" y="322.40" text-anchor="start" font-size="15.3" font-weight="bold" fill="#000">(c)</text>
<text x="68.00" y="359.70" text-anchor="end" font-size="13.5" fill="#111">1</text>
<text x="68.60" y="438.50" text-anchor="end" font-size="13.5" fill="#111">0</text>
<text x="70.40" y="514.50" text-anchor="end" font-size="13.5" fill="#111">-1</text>
<text x="37.50" y="439.00" text-anchor="start" font-size="13.5" fill="#111">K</text>
<text x="65.70" y="527.70" text-anchor="start" font-size="13.5" fill="#111">1</text>
<text x="148.00" y="534.50" text-anchor="start" font-size="13.5" fill="#111">0</text>
<text x="221.50" y="542.40" text-anchor="start" font-size="13.5" fill="#111">-1</text>
<text x="148.50" y="553.40" text-anchor="start" font-size="13.5" fill="#111">J</text>
<text x="239.50" y="534.80" text-anchor="start" font-size="13.5" fill="#111">-1</text>
<text x="267.30" y="512.50" text-anchor="start" font-size="13.5" fill="#111">0</text>
<text x="295.80" y="489.00" text-anchor="start" font-size="13.5" fill="#111">1</text>
<text x="287.50" y="521.50" text-anchor="start" font-size="13.5" fill="#111">I</text>
<path d="M137.95,439.40 C138.27,439.48 138.55,438.00 139.85,439.90 C141.15,441.80 143.78,447.78 145.75,450.80 C147.72,453.82 150.38,455.93 151.65,458.00 C152.92,460.07 152.68,462.25 153.35,463.20 C154.02,464.15 154.85,464.03 155.65,463.70 C156.45,463.37 158.03,461.72 158.15,461.20 C158.27,460.68 157.12,460.78 156.35,460.60 C155.58,460.42 154.02,460.18 153.55,460.10" fill="none" stroke="#4DBEEE" stroke-width="1.5" stroke-linejoin="round" stroke-linecap="round"/>
<path d="M153.35,460.60 C153.52,459.13 153.77,454.95 154.35,451.80 C154.93,448.65 155.80,444.85 156.85,441.70 C157.90,438.55 159.40,435.10 160.65,432.90 C161.90,430.70 163.08,429.55 164.35,428.50 C165.62,427.45 167.08,426.72 168.25,426.60 C169.42,426.48 170.57,427.07 171.35,427.80 C172.13,428.53 172.73,429.73 172.95,431.00 C173.17,432.27 173.13,433.93 172.65,435.40 C172.17,436.87 170.37,438.85 170.05,439.80 C169.73,440.75 170.00,440.62 170.75,441.10 C171.50,441.58 173.92,442.43 174.55,442.70" fill="none" stroke="#0072BD" stroke-width="1.5" stroke-linejoin="round" stroke-linecap="round"/>
<path d="M137.40,439.10 C137.72,439.18 138.00,437.70 139.30,439.60 C140.60,441.50 143.23,447.48 145.20,450.50 C147.17,453.52 149.83,455.63 151.10,457.70 C152.37,459.77 152.13,461.95 152.80,462.90 C153.47,463.85 154.30,463.73 155.10,463.40 C155.90,463.07 157.48,461.42 157.60,460.90 C157.72,460.38 156.57,460.48 155.80,460.30 C155.03,460.12 153.47,459.88 153.00,459.80" fill="none" stroke="#D95319" stroke-width="1.3" stroke-linejoin="round" stroke-linecap="round"/>
<path d="M152.80,460.50 C152.97,459.03 153.22,454.85 153.80,451.70 C154.38,448.55 155.25,444.75 156.30,441.60 C157.35,438.45 158.85,435.00 160.10,432.80 C161.35,430.60 162.53,429.45 163.80,428.40 C165.07,427.35 166.53,426.62 167.70,426.50 C168.87,426.38 170.02,426.97 170.80,427.70 C171.58,428.43 172.18,429.63 172.40,430.90 C172.62,432.17 172.58,433.83 172.10,435.30 C171.62,436.77 169.82,438.75 169.50,439.70 C169.18,440.65 169.45,440.52 170.20,441.00 C170.95,441.48 173.37,442.33 174.00,442.60" fill="none" stroke="#D95319" stroke-width="1.3" stroke-linejoin="round" stroke-linecap="round"/>
<path d="M137.60,439.20 C137.92,439.28 138.20,437.80 139.50,439.70 C140.80,441.60 143.43,447.58 145.40,450.60 C147.37,453.62 150.03,455.73 151.30,457.80 C152.57,459.87 152.33,462.05 153.00,463.00 C153.67,463.95 154.50,463.83 155.30,463.50 C156.10,463.17 157.68,461.52 157.80,461.00 C157.92,460.48 156.77,460.58 156.00,460.40 C155.23,460.22 153.67,459.98 153.20,459.90" fill="none" stroke="#8f7a58" stroke-width="1.5" stroke-linejoin="round" stroke-linecap="round"/>
<path d="M153.00,460.40 C153.17,458.93 153.42,454.75 154.00,451.60 C154.58,448.45 155.45,444.65 156.50,441.50 C157.55,438.35 159.05,434.90 160.30,432.70 C161.55,430.50 162.73,429.35 164.00,428.30 C165.27,427.25 166.73,426.52 167.90,426.40 C169.07,426.28 170.22,426.87 171.00,427.60 C171.78,428.33 172.38,429.53 172.60,430.80 C172.82,432.07 172.78,433.73 172.30,435.20 C171.82,436.67 170.02,438.65 169.70,439.60 C169.38,440.55 169.65,440.42 170.40,440.90 C171.15,441.38 173.57,442.23 174.20,442.50" fill="none" stroke="#8f7a58" stroke-width="1.5" stroke-linejoin="round" stroke-linecap="round"/>
<polyline points="140.20,441.00 143.20,447.00" fill="none" stroke="#D95319" stroke-width="1.3" stroke-linejoin="round" stroke-linecap="round" />
<polyline points="171.20,427.90 172.50,430.50" fill="none" stroke="#D95319" stroke-width="1.3" stroke-linejoin="round" stroke-linecap="round" />
<polyline points="172.50,441.80 174.20,442.50" fill="none" stroke="#D95319" stroke-width="1.3" stroke-linejoin="round" stroke-linecap="round" />
<polyline points="152.90,461.50 153.60,463.20 155.50,463.60" fill="none" stroke="#3f88a8" stroke-width="1.3" stroke-linejoin="round" stroke-linecap="round" />
<circle cx="154.0" cy="447.8" r="6.9" fill="none" stroke="#000" stroke-width="1.2"/>
<text x="164.00" y="457.60" text-anchor="start" font-size="15.3" font-weight="bold" fill="#000">(d)</text>
<line x1="429.55" y1="499.05" x2="429.55" y2="327.85" stroke="#dedede" stroke-width="0.8" />
<line x1="459.50" y1="482.40" x2="459.50" y2="311.20" stroke="#dedede" stroke-width="0.8" />
<line x1="516.53" y1="486.37" x2="516.53" y2="315.17" stroke="#dedede" stroke-width="0.8" />
<line x1="573.22" y1="490.32" x2="573.22" y2="319.12" stroke="#dedede" stroke-width="0.8" />
<line x1="631.80" y1="494.40" x2="631.80" y2="323.20" stroke="#dedede" stroke-width="0.8" />
<line x1="399.60" y1="515.70" x2="459.50" y2="482.40" stroke="#dedede" stroke-width="0.8" />
<line x1="459.50" y1="482.40" x2="631.80" y2="494.40" stroke="#dedede" stroke-width="0.8" />
<line x1="399.60" y1="458.63" x2="459.50" y2="425.33" stroke="#dedede" stroke-width="0.8" />
<line x1="459.50" y1="425.33" x2="631.80" y2="437.33" stroke="#dedede" stroke-width="0.8" />
<line x1="399.60" y1="401.57" x2="459.50" y2="368.27" stroke="#dedede" stroke-width="0.8" />
<line x1="459.50" y1="368.27" x2="631.80" y2="380.27" stroke="#dedede" stroke-width="0.8" />
<line x1="399.60" y1="344.50" x2="459.50" y2="311.20" stroke="#dedede" stroke-width="0.8" />
<line x1="459.50" y1="311.20" x2="631.80" y2="323.20" stroke="#dedede" stroke-width="0.8" />
<line x1="429.55" y1="499.05" x2="601.85" y2="511.05" stroke="#dedede" stroke-width="0.8" />
<line x1="459.50" y1="482.40" x2="631.80" y2="494.40" stroke="#dedede" stroke-width="0.8" />
<line x1="399.60" y1="515.70" x2="459.50" y2="482.40" stroke="#dedede" stroke-width="0.8" />
<line x1="456.63" y1="519.67" x2="516.53" y2="486.37" stroke="#dedede" stroke-width="0.8" />
<line x1="513.32" y1="523.62" x2="573.22" y2="490.32" stroke="#dedede" stroke-width="0.8" />
<line x1="399.60" y1="516.20" x2="399.60" y2="344.00" stroke="#666" stroke-width="1.2" />
<line x1="399.60" y1="515.70" x2="571.90" y2="527.70" stroke="#262626" stroke-width="1" />
<line x1="571.90" y1="527.70" x2="631.80" y2="494.40" stroke="#262626" stroke-width="1" />
<line x1="399.60" y1="515.70" x2="395.41" y2="515.41" stroke="#262626" stroke-width="1" />
<line x1="399.60" y1="458.63" x2="395.41" y2="458.34" stroke="#262626" stroke-width="1" />
<line x1="399.60" y1="401.57" x2="395.41" y2="401.27" stroke="#262626" stroke-width="1" />
<line x1="399.60" y1="344.50" x2="395.41" y2="344.21" stroke="#262626" stroke-width="1" />
<line x1="456.63" y1="519.67" x2="453.14" y2="521.62" stroke="#262626" stroke-width="1" />
<line x1="513.32" y1="523.62" x2="509.82" y2="525.56" stroke="#262626" stroke-width="1" />
<line x1="571.04" y1="527.64" x2="567.54" y2="529.58" stroke="#262626" stroke-width="1" />
<line x1="571.90" y1="527.70" x2="575.89" y2="527.98" stroke="#262626" stroke-width="1" />
<line x1="601.85" y1="511.05" x2="605.84" y2="511.33" stroke="#262626" stroke-width="1" />
<line x1="631.80" y1="494.40" x2="635.79" y2="494.68" stroke="#262626" stroke-width="1" />
<text x="381.50" y="324.10" text-anchor="start" font-size="15.3" font-weight="bold" fill="#000">(d)</text>
<text x="392.00" y="349.00" text-anchor="end" font-size="13.5" fill="#111">-0.2952</text>
<text x="392.00" y="406.00" text-anchor="end" font-size="13.5" fill="#111">-0.2953</text>
<text x="392.00" y="463.20" text-anchor="end" font-size="13.5" fill="#111">-0.2954</text>
<text x="392.00" y="522.20" text-anchor="end" font-size="13.5" fill="#111">-0.2955</text>
<text x="327.20" y="429.80" text-anchor="start" font-size="13.5" fill="#111">K</text>
<text x="428.00" y="533.40" text-anchor="start" font-size="13.5" fill="#111">0.0162</text>
<text x="488.10" y="538.40" text-anchor="start" font-size="13.5" fill="#111">0.016</text>
<text x="542.70" y="542.60" text-anchor="start" font-size="13.5" fill="#111">0.0158</text>
<text x="477.00" y="554.40" text-anchor="start" font-size="13.5" fill="#111">J</text>
<text x="584.30" y="535.10" text-anchor="start" font-size="13.5" fill="#111">-0.9553</text>
<text x="606.80" y="519.10" text-anchor="start" font-size="13.5" fill="#111">-0.95525</text>
<text x="643.00" y="500.10" text-anchor="start" font-size="13.5" fill="#111">-0.9552</text>
<text x="670.00" y="531.60" text-anchor="start" font-size="13.5" fill="#111">I</text>
<polyline points="539.40,360.10 469.50,484.00" fill="none" stroke="#D95319" stroke-width="1.6" stroke-linejoin="round" stroke-linecap="round" />
<polyline points="550.20,362.60 477.40,484.70" fill="none" stroke="#EDB120" stroke-width="1.6" stroke-linejoin="round" stroke-linecap="round" />
<polyline points="552.30,363.00 479.50,485.00" fill="none" stroke="#7E2F8E" stroke-width="1.6" stroke-linejoin="round" stroke-linecap="round" />
<polyline points="554.40,363.30 482.10,485.30" fill="none" stroke="#77AC30" stroke-width="1.6" stroke-linejoin="round" stroke-linecap="round" />
<polyline points="557.00,363.70 484.70,485.50" fill="none" stroke="#4DBEEE" stroke-width="1.6" stroke-linejoin="round" stroke-linecap="round" />
<polyline points="589.50,412.70 544.60,491.10" fill="none" stroke="#14142a" stroke-width="1.9" stroke-linejoin="round" stroke-linecap="round" />
<rect x="236.4" y="246.3" width="96.4" height="162.1" fill="#fff" stroke="#3a3a3a" stroke-width="1"/>
<line x1="244.50" y1="265.10" x2="264.30" y2="265.10" stroke="#000" stroke-width="1.4" />
<text x="270.20" y="261.40" text-anchor="start" font-size="13.5" fill="#000">Command</text>
<text x="270.20" y="277.00" text-anchor="start" font-size="13.5" fill="#000">trajectory</text>
<line x1="244.50" y1="292.50" x2="264.30" y2="292.50" stroke="#0072BD" stroke-width="1.4" />
<text x="270.20" y="296.60" text-anchor="start" font-size="13.5" fill="#0072BD">Case 1</text>
<line x1="244.50" y1="312.90" x2="264.30" y2="312.90" stroke="#D95319" stroke-width="1.4" />
<text x="270.20" y="317.00" text-anchor="start" font-size="13.5" fill="#D95319">Case 2</text>
<line x1="244.50" y1="333.60" x2="264.30" y2="333.60" stroke="#EDB120" stroke-width="1.4" />
<text x="270.20" y="337.70" text-anchor="start" font-size="13.5" fill="#EDB120">Case 3</text>
<line x1="244.50" y1="354.40" x2="264.30" y2="354.40" stroke="#7E2F8E" stroke-width="1.4" />
<text x="270.20" y="358.50" text-anchor="start" font-size="13.5" fill="#7E2F8E">Case 4</text>
<line x1="244.50" y1="374.90" x2="264.30" y2="374.90" stroke="#77AC30" stroke-width="1.4" />
<text x="270.20" y="379.00" text-anchor="start" font-size="13.5" fill="#77AC30">Case 5</text>
<line x1="244.50" y1="395.90" x2="264.30" y2="395.90" stroke="#4DBEEE" stroke-width="1.4" />
<text x="270.20" y="400.00" text-anchor="start" font-size="13.5" fill="#4DBEEE">Case 6</text>
</svg>
</body></html>
